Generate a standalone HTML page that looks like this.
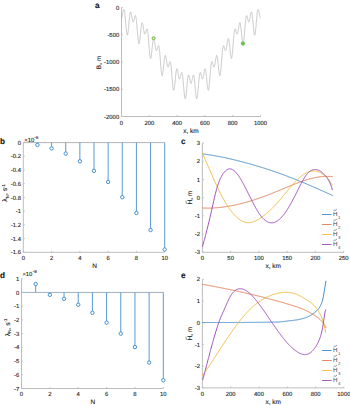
<!DOCTYPE html>
<html><head><meta charset="utf-8"><style>
html,body{margin:0;padding:0;background:#fff;width:350px;height:405px;overflow:hidden}
svg{display:block;font-family:"Liberation Sans",sans-serif;text-rendering:geometricPrecision}
text{stroke:#262626;stroke-width:0.12px}
</style></head><body>
<svg width="350" height="405" viewBox="0 0 350 405">
<rect width="350" height="405" fill="#fff"/>
<line x1="121.5" y1="7.6" x2="121.5" y2="116.5" stroke="#bdbdbd" stroke-width="1.0"/>
<line x1="121.5" y1="116.5" x2="260.5" y2="116.5" stroke="#bdbdbd" stroke-width="1.0"/>
<line x1="121.5" y1="7.6" x2="122.9" y2="7.6" stroke="#bdbdbd" stroke-width="1.0"/>
<text x="119.2" y="9.7" font-size="5.9" text-anchor="end" fill="#262626" font-weight="normal" >0</text>
<line x1="121.5" y1="34.82" x2="122.9" y2="34.82" stroke="#bdbdbd" stroke-width="1.0"/>
<text x="119.2" y="36.92" font-size="5.9" text-anchor="end" fill="#262626" font-weight="normal" >-500</text>
<line x1="121.5" y1="62.05" x2="122.9" y2="62.05" stroke="#bdbdbd" stroke-width="1.0"/>
<text x="119.2" y="64.15" font-size="5.9" text-anchor="end" fill="#262626" font-weight="normal" >-1000</text>
<line x1="121.5" y1="89.27" x2="122.9" y2="89.27" stroke="#bdbdbd" stroke-width="1.0"/>
<text x="119.2" y="91.37" font-size="5.9" text-anchor="end" fill="#262626" font-weight="normal" >-1500</text>
<line x1="121.5" y1="116.5" x2="122.9" y2="116.5" stroke="#bdbdbd" stroke-width="1.0"/>
<text x="119.2" y="118.6" font-size="5.9" text-anchor="end" fill="#262626" font-weight="normal" >-2000</text>
<line x1="121.5" y1="116.5" x2="121.5" y2="115.1" stroke="#bdbdbd" stroke-width="1.0"/>
<text x="121.5" y="124.7" font-size="5.9" text-anchor="middle" fill="#262626" font-weight="normal" >0</text>
<line x1="149.3" y1="116.5" x2="149.3" y2="115.1" stroke="#bdbdbd" stroke-width="1.0"/>
<text x="149.3" y="124.7" font-size="5.9" text-anchor="middle" fill="#262626" font-weight="normal" >200</text>
<line x1="177.1" y1="116.5" x2="177.1" y2="115.1" stroke="#bdbdbd" stroke-width="1.0"/>
<text x="177.1" y="124.7" font-size="5.9" text-anchor="middle" fill="#262626" font-weight="normal" >400</text>
<line x1="204.9" y1="116.5" x2="204.9" y2="115.1" stroke="#bdbdbd" stroke-width="1.0"/>
<text x="204.9" y="124.7" font-size="5.9" text-anchor="middle" fill="#262626" font-weight="normal" >600</text>
<line x1="232.7" y1="116.5" x2="232.7" y2="115.1" stroke="#bdbdbd" stroke-width="1.0"/>
<text x="232.7" y="124.7" font-size="5.9" text-anchor="middle" fill="#262626" font-weight="normal" >800</text>
<line x1="260.5" y1="116.5" x2="260.5" y2="115.1" stroke="#bdbdbd" stroke-width="1.0"/>
<text x="260.5" y="124.7" font-size="5.9" text-anchor="middle" fill="#262626" font-weight="normal" >1000</text>
<text x="191" y="132.8" font-size="6.5" text-anchor="middle" fill="#262626" font-weight="normal" >x, km</text>
<text x="99.6" y="62.5" font-size="6.5" text-anchor="middle" fill="#262626" font-weight="normal" transform="rotate(-90 99.6 62.5)" dominant-baseline="central">B, m</text>
<text x="94.9" y="8" font-size="8.2" text-anchor="start" fill="#111" font-weight="bold" >a</text>
<path d="M121.5,17.53 L121.62,17.49 L121.73,17.35 L121.85,17.14 L121.96,16.84 L122.08,16.47 L122.19,16.04 L122.31,15.54 L122.43,15 L122.54,14.42 L122.66,13.82 L122.77,13.21 L122.89,12.61 L123.01,12.02 L123.12,11.46 L123.24,10.94 L123.35,10.48 L123.47,10.1 L123.58,9.79 L123.7,9.58 L123.82,9.47 L123.93,9.46 L124.05,9.58 L124.16,9.81 L124.28,10.16 L124.4,10.64 L124.51,11.24 L124.63,11.96 L124.74,12.8 L124.86,13.74 L124.97,14.78 L125.09,15.91 L125.21,17.12 L125.32,18.4 L125.44,19.72 L125.55,21.08 L125.67,22.46 L125.79,23.84 L125.9,25.2 L126.02,26.54 L126.13,27.83 L126.25,29.06 L126.36,30.21 L126.48,31.26 L126.6,32.21 L126.71,33.04 L126.83,33.75 L126.94,34.31 L127.06,34.74 L127.18,35.01 L127.29,35.13 L127.41,35.1 L127.52,34.92 L127.64,34.58 L127.75,34.11 L127.87,33.49 L127.99,32.75 L128.1,31.89 L128.22,30.92 L128.33,29.86 L128.45,28.72 L128.57,27.52 L128.68,26.28 L128.8,25 L128.91,23.71 L129.03,22.42 L129.15,21.15 L129.26,19.91 L129.38,18.73 L129.49,17.61 L129.61,16.57 L129.72,15.61 L129.84,14.76 L129.96,14.01 L130.07,13.38 L130.19,12.87 L130.3,12.48 L130.42,12.21 L130.53,12.07 L130.65,12.04 L130.77,12.13 L130.88,12.33 L131,12.64 L131.11,13.03 L131.23,13.51 L131.35,14.05 L131.46,14.65 L131.58,15.3 L131.69,15.98 L131.81,16.67 L131.93,17.37 L132.04,18.06 L132.16,18.72 L132.27,19.35 L132.39,19.93 L132.5,20.46 L132.62,20.91 L132.74,21.3 L132.85,21.6 L132.97,21.82 L133.08,21.95 L133.2,21.99 L133.31,21.94 L133.43,21.81 L133.55,21.6 L133.66,21.32 L133.78,20.97 L133.89,20.56 L134.01,20.1 L134.13,19.61 L134.24,19.1 L134.36,18.57 L134.47,18.05 L134.59,17.54 L134.71,17.07 L134.82,16.64 L134.94,16.26 L135.05,15.96 L135.17,15.74 L135.28,15.61 L135.4,15.58 L135.52,15.66 L135.63,15.86 L135.75,16.17 L135.86,16.61 L135.98,17.17 L136.09,17.85 L136.21,18.66 L136.33,19.57 L136.44,20.6 L136.56,21.72 L136.67,22.94 L136.79,24.23 L136.91,25.58 L137.02,26.98 L137.14,28.42 L137.25,29.88 L137.37,31.34 L137.49,32.79 L137.6,34.21 L137.72,35.58 L137.83,36.88 L137.95,38.11 L138.06,39.25 L138.18,40.28 L138.3,41.19 L138.41,41.97 L138.53,42.61 L138.64,43.11 L138.76,43.46 L138.88,43.66 L138.99,43.71 L139.11,43.6 L139.22,43.34 L139.34,42.94 L139.45,42.41 L139.57,41.74 L139.69,40.95 L139.8,40.06 L139.92,39.08 L140.03,38.02 L140.15,36.89 L140.26,35.72 L140.38,34.51 L140.5,33.3 L140.61,32.08 L140.73,30.89 L140.84,29.72 L140.96,28.61 L141.08,27.57 L141.19,26.6 L141.31,25.71 L141.42,24.93 L141.54,24.26 L141.66,23.7 L141.77,23.26 L141.89,22.94 L142,22.74 L142.12,22.67 L142.23,22.71 L142.35,22.87 L142.47,23.14 L142.58,23.51 L142.7,23.98 L142.81,24.52 L142.93,25.13 L143.05,25.8 L143.16,26.52 L143.28,27.26 L143.39,28.02 L143.51,28.79 L143.62,29.54 L143.74,30.27 L143.86,30.97 L143.97,31.61 L144.09,32.2 L144.2,32.72 L144.32,33.17 L144.44,33.54 L144.55,33.82 L144.67,34.01 L144.78,34.12 L144.9,34.13 L145.01,34.07 L145.13,33.92 L145.25,33.7 L145.36,33.41 L145.48,33.06 L145.59,32.66 L145.71,32.23 L145.82,31.78 L145.94,31.31 L146.06,30.85 L146.17,30.4 L146.29,29.98 L146.4,29.61 L146.52,29.3 L146.64,29.05 L146.75,28.89 L146.87,28.81 L146.98,28.84 L147.1,28.98 L147.22,29.23 L147.33,29.6 L147.45,30.09 L147.56,30.71 L147.68,31.45 L147.79,32.3 L147.91,33.27 L148.03,34.35 L148.14,35.53 L148.26,36.79 L148.37,38.13 L148.49,39.54 L148.61,41 L148.72,42.49 L148.84,43.99 L148.95,45.51 L149.07,47 L149.18,48.47 L149.3,49.89 L149.42,51.24 L149.53,52.52 L149.65,53.7 L149.76,54.78 L149.88,55.73 L150,56.56 L150.11,57.25 L150.23,57.8 L150.34,58.2 L150.46,58.44 L150.57,58.53 L150.69,58.47 L150.81,58.25 L150.92,57.9 L151.04,57.4 L151.15,56.78 L151.27,56.03 L151.38,55.18 L151.5,54.24 L151.62,53.22 L151.73,52.13 L151.85,51 L151.96,49.84 L152.08,48.66 L152.2,47.48 L152.31,46.32 L152.43,45.2 L152.54,44.13 L152.66,43.12 L152.78,42.18 L152.89,41.34 L153.01,40.59 L153.12,39.95 L153.24,39.43 L153.35,39.02 L153.47,38.73 L153.59,38.57 L153.7,38.53 L153.82,38.61 L153.93,38.8 L154.05,39.1 L154.17,39.51 L154.28,40 L154.4,40.57 L154.51,41.22 L154.63,41.92 L154.74,42.66 L154.86,43.43 L154.98,44.22 L155.09,45.02 L155.21,45.8 L155.32,46.55 L155.44,47.27 L155.56,47.95 L155.67,48.56 L155.79,49.11 L155.9,49.58 L156.02,49.97 L156.13,50.27 L156.25,50.49 L156.37,50.62 L156.48,50.66 L156.6,50.61 L156.71,50.49 L156.83,50.29 L156.94,50.02 L157.06,49.69 L157.18,49.31 L157.29,48.9 L157.41,48.47 L157.52,48.02 L157.64,47.57 L157.76,47.14 L157.87,46.74 L157.99,46.39 L158.1,46.09 L158.22,45.86 L158.34,45.71 L158.45,45.65 L158.57,45.69 L158.68,45.84 L158.8,46.11 L158.91,46.49 L159.03,47 L159.15,47.62 L159.26,48.37 L159.38,49.24 L159.49,50.22 L159.61,51.31 L159.72,52.5 L159.84,53.77 L159.96,55.12 L160.07,56.53 L160.19,58 L160.3,59.5 L160.42,61.01 L160.54,62.53 L160.65,64.03 L160.77,65.5 L160.88,66.93 L161,68.29 L161.12,69.57 L161.23,70.75 L161.35,71.83 L161.46,72.79 L161.58,73.62 L161.69,74.31 L161.81,74.86 L161.93,75.26 L162.04,75.5 L162.16,75.59 L162.27,75.53 L162.39,75.31 L162.5,74.95 L162.62,74.46 L162.74,73.83 L162.85,73.08 L162.97,72.23 L163.08,71.29 L163.2,70.26 L163.32,69.17 L163.43,68.03 L163.55,66.86 L163.66,65.67 L163.78,64.49 L163.9,63.33 L164.01,62.2 L164.13,61.11 L164.24,60.09 L164.36,59.15 L164.47,58.3 L164.59,57.54 L164.71,56.89 L164.82,56.35 L164.94,55.94 L165.05,55.64 L165.17,55.46 L165.28,55.41 L165.4,55.47 L165.52,55.65 L165.63,55.94 L165.75,56.33 L165.86,56.81 L165.98,57.37 L166.1,57.99 L166.21,58.68 L166.33,59.4 L166.44,60.16 L166.56,60.93 L166.68,61.71 L166.79,62.47 L166.91,63.21 L167.02,63.91 L167.14,64.56 L167.25,65.15 L167.37,65.68 L167.49,66.13 L167.6,66.5 L167.72,66.78 L167.83,66.97 L167.95,67.08 L168.06,67.09 L168.18,67.02 L168.3,66.87 L168.41,66.65 L168.53,66.35 L168.64,66 L168.76,65.6 L168.88,65.16 L168.99,64.69 L169.11,64.22 L169.22,63.74 L169.34,63.29 L169.46,62.86 L169.57,62.47 L169.69,62.14 L169.8,61.88 L169.92,61.7 L170.03,61.61 L170.15,61.62 L170.27,61.74 L170.38,61.97 L170.5,62.32 L170.61,62.79 L170.73,63.39 L170.84,64.1 L170.96,64.94 L171.08,65.88 L171.19,66.93 L171.31,68.08 L171.42,69.32 L171.54,70.63 L171.66,72.01 L171.77,73.44 L171.89,74.9 L172,76.37 L172.12,77.85 L172.24,79.31 L172.35,80.75 L172.47,82.13 L172.58,83.45 L172.7,84.69 L172.81,85.83 L172.93,86.87 L173.05,87.79 L173.16,88.57 L173.28,89.22 L173.39,89.73 L173.51,90.08 L173.62,90.28 L173.74,90.32 L173.86,90.21 L173.97,89.95 L174.09,89.55 L174.2,89.01 L174.32,88.33 L174.44,87.54 L174.55,86.64 L174.67,85.64 L174.78,84.57 L174.9,83.43 L175.02,82.24 L175.13,81.02 L175.25,79.79 L175.36,78.55 L175.48,77.34 L175.59,76.15 L175.71,75.02 L175.83,73.95 L175.94,72.96 L176.06,72.05 L176.17,71.24 L176.29,70.54 L176.41,69.94 L176.52,69.47 L176.64,69.12 L176.75,68.89 L176.87,68.78 L176.98,68.79 L177.1,68.91 L177.22,69.14 L177.33,69.48 L177.45,69.9 L177.56,70.4 L177.68,70.97 L177.8,71.59 L177.91,72.26 L178.03,72.96 L178.14,73.67 L178.26,74.39 L178.37,75.09 L178.49,75.77 L178.61,76.41 L178.72,77 L178.84,77.53 L178.95,77.99 L179.07,78.38 L179.19,78.69 L179.3,78.91 L179.42,79.04 L179.53,79.08 L179.65,79.03 L179.76,78.9 L179.88,78.68 L180,78.39 L180.11,78.03 L180.23,77.61 L180.34,77.15 L180.46,76.64 L180.57,76.11 L180.69,75.57 L180.81,75.03 L180.92,74.5 L181.04,74.01 L181.15,73.55 L181.27,73.16 L181.39,72.83 L181.5,72.58 L181.62,72.42 L181.73,72.36 L181.85,72.41 L181.97,72.57 L182.08,72.85 L182.2,73.25 L182.31,73.77 L182.43,74.42 L182.54,75.18 L182.66,76.05 L182.78,77.03 L182.89,78.11 L183.01,79.28 L183.12,80.52 L183.24,81.82 L183.36,83.17 L183.47,84.56 L183.59,85.96 L183.7,87.37 L183.82,88.76 L183.93,90.11 L184.05,91.42 L184.17,92.67 L184.28,93.83 L184.4,94.9 L184.51,95.86 L184.63,96.7 L184.75,97.41 L184.86,97.98 L184.98,98.41 L185.09,98.69 L185.21,98.81 L185.32,98.78 L185.44,98.59 L185.56,98.25 L185.67,97.77 L185.79,97.15 L185.9,96.39 L186.02,95.52 L186.13,94.54 L186.25,93.47 L186.37,92.31 L186.48,91.1 L186.6,89.83 L186.71,88.53 L186.83,87.21 L186.95,85.9 L187.06,84.6 L187.18,83.34 L187.29,82.12 L187.41,80.97 L187.53,79.9 L187.64,78.91 L187.76,78.02 L187.87,77.23 L187.99,76.56 L188.1,76 L188.22,75.57 L188.34,75.25 L188.45,75.06 L188.57,74.99 L188.68,75.03 L188.8,75.18 L188.92,75.42 L189.03,75.76 L189.15,76.18 L189.26,76.66 L189.38,77.2 L189.49,77.79 L189.61,78.4 L189.73,79.03 L189.84,79.66 L189.96,80.28 L190.07,80.87 L190.19,81.42 L190.31,81.93 L190.42,82.37 L190.54,82.75 L190.65,83.05 L190.77,83.27 L190.88,83.41 L191,83.45 L191.12,83.41 L191.23,83.27 L191.35,83.05 L191.46,82.75 L191.58,82.37 L191.69,81.93 L191.81,81.42 L191.93,80.87 L192.04,80.28 L192.16,79.66 L192.27,79.03 L192.39,78.4 L192.51,77.79 L192.62,77.2 L192.74,76.66 L192.85,76.18 L192.97,75.76 L193.09,75.42 L193.2,75.18 L193.32,75.03 L193.43,74.99 L193.55,75.06 L193.66,75.25 L193.78,75.57 L193.9,76 L194.01,76.56 L194.13,77.23 L194.24,78.02 L194.36,78.91 L194.48,79.9 L194.59,80.97 L194.71,82.12 L194.82,83.34 L194.94,84.6 L195.05,85.9 L195.17,87.21 L195.29,88.53 L195.4,89.83 L195.52,91.1 L195.63,92.31 L195.75,93.47 L195.87,94.54 L195.98,95.52 L196.1,96.39 L196.21,97.15 L196.33,97.77 L196.44,98.25 L196.56,98.59 L196.68,98.78 L196.79,98.81 L196.91,98.69 L197.02,98.41 L197.14,97.98 L197.25,97.41 L197.37,96.7 L197.49,95.86 L197.6,94.9 L197.72,93.83 L197.83,92.67 L197.95,91.42 L198.07,90.11 L198.18,88.76 L198.3,87.37 L198.41,85.96 L198.53,84.56 L198.65,83.17 L198.76,81.82 L198.88,80.52 L198.99,79.28 L199.11,78.11 L199.22,77.03 L199.34,76.05 L199.46,75.18 L199.57,74.42 L199.69,73.77 L199.8,73.25 L199.92,72.85 L200.04,72.57 L200.15,72.41 L200.27,72.36 L200.38,72.42 L200.5,72.58 L200.61,72.83 L200.73,73.16 L200.85,73.55 L200.96,74.01 L201.08,74.5 L201.19,75.03 L201.31,75.57 L201.43,76.11 L201.54,76.64 L201.66,77.15 L201.77,77.61 L201.89,78.03 L202,78.39 L202.12,78.68 L202.24,78.9 L202.35,79.03 L202.47,79.08 L202.58,79.04 L202.7,78.91 L202.81,78.69 L202.93,78.38 L203.05,77.99 L203.16,77.53 L203.28,77 L203.39,76.41 L203.51,75.77 L203.63,75.09 L203.74,74.39 L203.86,73.67 L203.97,72.96 L204.09,72.26 L204.21,71.59 L204.32,70.97 L204.44,70.4 L204.55,69.9 L204.67,69.48 L204.78,69.14 L204.9,68.91 L205.02,68.79 L205.13,68.78 L205.25,68.89 L205.36,69.12 L205.48,69.47 L205.6,69.94 L205.71,70.54 L205.83,71.24 L205.94,72.05 L206.06,72.96 L206.17,73.95 L206.29,75.02 L206.41,76.15 L206.52,77.34 L206.64,78.55 L206.75,79.79 L206.87,81.02 L206.99,82.24 L207.1,83.43 L207.22,84.57 L207.33,85.64 L207.45,86.64 L207.56,87.54 L207.68,88.33 L207.8,89.01 L207.91,89.55 L208.03,89.95 L208.14,90.21 L208.26,90.32 L208.38,90.28 L208.49,90.08 L208.61,89.73 L208.72,89.22 L208.84,88.57 L208.95,87.79 L209.07,86.87 L209.19,85.83 L209.3,84.69 L209.42,83.45 L209.53,82.13 L209.65,80.75 L209.77,79.31 L209.88,77.85 L210,76.37 L210.11,74.9 L210.23,73.44 L210.34,72.01 L210.46,70.63 L210.58,69.32 L210.69,68.08 L210.81,66.93 L210.92,65.88 L211.04,64.94 L211.16,64.1 L211.27,63.39 L211.39,62.79 L211.5,62.32 L211.62,61.97 L211.73,61.74 L211.85,61.62 L211.97,61.61 L212.08,61.7 L212.2,61.88 L212.31,62.14 L212.43,62.47 L212.55,62.86 L212.66,63.29 L212.78,63.74 L212.89,64.22 L213.01,64.69 L213.12,65.16 L213.24,65.6 L213.36,66 L213.47,66.35 L213.59,66.65 L213.7,66.87 L213.82,67.02 L213.94,67.09 L214.05,67.08 L214.17,66.97 L214.28,66.78 L214.4,66.5 L214.51,66.13 L214.63,65.68 L214.75,65.15 L214.86,64.56 L214.98,63.91 L215.09,63.21 L215.21,62.47 L215.32,61.71 L215.44,60.93 L215.56,60.16 L215.67,59.4 L215.79,58.68 L215.9,57.99 L216.02,57.37 L216.14,56.81 L216.25,56.33 L216.37,55.94 L216.48,55.65 L216.6,55.47 L216.72,55.41 L216.83,55.46 L216.95,55.64 L217.06,55.94 L217.18,56.35 L217.29,56.89 L217.41,57.54 L217.53,58.3 L217.64,59.15 L217.76,60.09 L217.87,61.11 L217.99,62.2 L218.11,63.33 L218.22,64.49 L218.34,65.67 L218.45,66.86 L218.57,68.03 L218.68,69.17 L218.8,70.26 L218.92,71.29 L219.03,72.23 L219.15,73.08 L219.26,73.83 L219.38,74.46 L219.5,74.95 L219.61,75.31 L219.73,75.53 L219.84,75.59 L219.96,75.5 L220.07,75.26 L220.19,74.86 L220.31,74.31 L220.42,73.62 L220.54,72.79 L220.65,71.83 L220.77,70.75 L220.88,69.57 L221,68.29 L221.12,66.93 L221.23,65.5 L221.35,64.03 L221.46,62.53 L221.58,61.01 L221.7,59.5 L221.81,58 L221.93,56.53 L222.04,55.12 L222.16,53.77 L222.28,52.5 L222.39,51.31 L222.51,50.22 L222.62,49.24 L222.74,48.37 L222.85,47.62 L222.97,47 L223.09,46.49 L223.2,46.11 L223.32,45.84 L223.43,45.69 L223.55,45.65 L223.67,45.71 L223.78,45.86 L223.9,46.09 L224.01,46.39 L224.13,46.74 L224.24,47.14 L224.36,47.57 L224.48,48.02 L224.59,48.47 L224.71,48.9 L224.82,49.31 L224.94,49.69 L225.06,50.02 L225.17,50.29 L225.29,50.49 L225.4,50.61 L225.52,50.66 L225.63,50.62 L225.75,50.49 L225.87,50.27 L225.98,49.97 L226.1,49.58 L226.21,49.11 L226.33,48.56 L226.44,47.95 L226.56,47.27 L226.68,46.55 L226.79,45.8 L226.91,45.02 L227.02,44.22 L227.14,43.43 L227.26,42.66 L227.37,41.92 L227.49,41.22 L227.6,40.57 L227.72,40 L227.84,39.51 L227.95,39.1 L228.07,38.8 L228.18,38.61 L228.3,38.53 L228.41,38.57 L228.53,38.73 L228.65,39.02 L228.76,39.43 L228.88,39.95 L228.99,40.59 L229.11,41.34 L229.23,42.18 L229.34,43.12 L229.46,44.13 L229.57,45.2 L229.69,46.32 L229.8,47.48 L229.92,48.66 L230.04,49.84 L230.15,51 L230.27,52.13 L230.38,53.22 L230.5,54.24 L230.62,55.18 L230.73,56.03 L230.85,56.78 L230.96,57.4 L231.08,57.9 L231.19,58.25 L231.31,58.47 L231.43,58.53 L231.54,58.44 L231.66,58.2 L231.77,57.8 L231.89,57.25 L232,56.56 L232.12,55.73 L232.24,54.78 L232.35,53.7 L232.47,52.52 L232.58,51.24 L232.7,49.89 L232.82,48.47 L232.93,47 L233.05,45.51 L233.16,43.99 L233.28,42.49 L233.4,41 L233.51,39.54 L233.63,38.13 L233.74,36.79 L233.86,35.53 L233.97,34.35 L234.09,33.27 L234.21,32.3 L234.32,31.45 L234.44,30.71 L234.55,30.09 L234.67,29.6 L234.79,29.23 L234.9,28.98 L235.02,28.84 L235.13,28.81 L235.25,28.89 L235.36,29.05 L235.48,29.3 L235.6,29.61 L235.71,29.98 L235.83,30.4 L235.94,30.85 L236.06,31.31 L236.18,31.78 L236.29,32.23 L236.41,32.66 L236.52,33.06 L236.64,33.41 L236.75,33.7 L236.87,33.92 L236.99,34.07 L237.1,34.13 L237.22,34.12 L237.33,34.01 L237.45,33.82 L237.56,33.54 L237.68,33.17 L237.8,32.72 L237.91,32.2 L238.03,31.61 L238.14,30.97 L238.26,30.27 L238.38,29.54 L238.49,28.79 L238.61,28.02 L238.72,27.26 L238.84,26.52 L238.96,25.8 L239.07,25.13 L239.19,24.52 L239.3,23.98 L239.42,23.51 L239.53,23.14 L239.65,22.87 L239.77,22.71 L239.88,22.67 L240,22.74 L240.11,22.94 L240.23,23.26 L240.35,23.7 L240.46,24.26 L240.58,24.93 L240.69,25.71 L240.81,26.6 L240.92,27.57 L241.04,28.61 L241.16,29.72 L241.27,30.89 L241.39,32.08 L241.5,33.3 L241.62,34.51 L241.74,35.72 L241.85,36.89 L241.97,38.02 L242.08,39.08 L242.2,40.06 L242.31,40.95 L242.43,41.74 L242.55,42.41 L242.66,42.94 L242.78,43.34 L242.89,43.6 L243.01,43.71 L243.12,43.66 L243.24,43.46 L243.36,43.11 L243.47,42.61 L243.59,41.97 L243.7,41.19 L243.82,40.28 L243.94,39.25 L244.05,38.11 L244.17,36.88 L244.28,35.58 L244.4,34.21 L244.52,32.79 L244.63,31.34 L244.75,29.88 L244.86,28.42 L244.98,26.98 L245.09,25.58 L245.21,24.23 L245.33,22.94 L245.44,21.72 L245.56,20.6 L245.67,19.57 L245.79,18.66 L245.91,17.85 L246.02,17.17 L246.14,16.61 L246.25,16.17 L246.37,15.86 L246.48,15.66 L246.6,15.58 L246.72,15.61 L246.83,15.74 L246.95,15.96 L247.06,16.26 L247.18,16.64 L247.3,17.07 L247.41,17.54 L247.53,18.05 L247.64,18.57 L247.76,19.1 L247.87,19.61 L247.99,20.1 L248.11,20.56 L248.22,20.97 L248.34,21.32 L248.45,21.6 L248.57,21.81 L248.69,21.94 L248.8,21.99 L248.92,21.95 L249.03,21.82 L249.15,21.6 L249.26,21.3 L249.38,20.91 L249.5,20.46 L249.61,19.93 L249.73,19.35 L249.84,18.72 L249.96,18.06 L250.08,17.37 L250.19,16.67 L250.31,15.98 L250.42,15.3 L250.54,14.65 L250.65,14.05 L250.77,13.51 L250.89,13.03 L251,12.64 L251.12,12.33 L251.23,12.13 L251.35,12.04 L251.47,12.07 L251.58,12.21 L251.7,12.48 L251.81,12.87 L251.93,13.38 L252.04,14.01 L252.16,14.76 L252.28,15.61 L252.39,16.57 L252.51,17.61 L252.62,18.73 L252.74,19.91 L252.86,21.15 L252.97,22.42 L253.09,23.71 L253.2,25 L253.32,26.28 L253.43,27.52 L253.55,28.72 L253.67,29.86 L253.78,30.92 L253.9,31.89 L254.01,32.75 L254.13,33.49 L254.25,34.11 L254.36,34.58 L254.48,34.92 L254.59,35.1 L254.71,35.13 L254.82,35.01 L254.94,34.74 L255.06,34.31 L255.17,33.75 L255.29,33.04 L255.4,32.21 L255.52,31.26 L255.64,30.21 L255.75,29.06 L255.87,27.83 L255.98,26.54 L256.1,25.2 L256.21,23.84 L256.33,22.46 L256.45,21.08 L256.56,19.72 L256.68,18.4 L256.79,17.12 L256.91,15.91 L257.02,14.78 L257.14,13.74 L257.26,12.8 L257.37,11.96 L257.49,11.24 L257.6,10.64 L257.72,10.16 L257.84,9.81 L257.95,9.58 L258.07,9.46 L258.18,9.47 L258.3,9.58 L258.42,9.79 L258.53,10.1 L258.65,10.48 L258.76,10.94 L258.88,11.46 L258.99,12.02 L259.11,12.61 L259.23,13.21 L259.34,13.82 L259.46,14.42 L259.57,15 L259.69,15.54 L259.81,16.04 L259.92,16.47 L260.04,16.84 L260.15,17.14 L260.27,17.35 L260.38,17.49 L260.5,17.53" fill="none" stroke="#ababab" stroke-width="0.62" stroke-linejoin="round" stroke-linecap="round" />
<circle cx="153.6" cy="38.2" r="1.5" fill="#d4ecc2" stroke="#74b843" stroke-width="1.0"/>
<circle cx="242.9" cy="43.5" r="1.9" fill="#6cbf48" stroke="#6cbf48" stroke-width="0.3"/>
<line x1="23.3" y1="142.6" x2="23.3" y2="252.3" stroke="#bdbdbd" stroke-width="1.0"/>
<line x1="23.3" y1="252.3" x2="164.7" y2="252.3" stroke="#bdbdbd" stroke-width="1.0"/>
<line x1="23.3" y1="142.6" x2="24.7" y2="142.6" stroke="#bdbdbd" stroke-width="1.0"/>
<text x="21" y="144.7" font-size="5.9" text-anchor="end" fill="#262626" font-weight="normal" >0</text>
<line x1="23.3" y1="156.31" x2="24.7" y2="156.31" stroke="#bdbdbd" stroke-width="1.0"/>
<text x="21" y="158.41" font-size="5.9" text-anchor="end" fill="#262626" font-weight="normal" >-0.2</text>
<line x1="23.3" y1="170.03" x2="24.7" y2="170.03" stroke="#bdbdbd" stroke-width="1.0"/>
<text x="21" y="172.12" font-size="5.9" text-anchor="end" fill="#262626" font-weight="normal" >-0.4</text>
<line x1="23.3" y1="183.74" x2="24.7" y2="183.74" stroke="#bdbdbd" stroke-width="1.0"/>
<text x="21" y="185.84" font-size="5.9" text-anchor="end" fill="#262626" font-weight="normal" >-0.6</text>
<line x1="23.3" y1="197.45" x2="24.7" y2="197.45" stroke="#bdbdbd" stroke-width="1.0"/>
<text x="21" y="199.55" font-size="5.9" text-anchor="end" fill="#262626" font-weight="normal" >-0.8</text>
<line x1="23.3" y1="211.16" x2="24.7" y2="211.16" stroke="#bdbdbd" stroke-width="1.0"/>
<text x="21" y="213.26" font-size="5.9" text-anchor="end" fill="#262626" font-weight="normal" >-1</text>
<line x1="23.3" y1="224.88" x2="24.7" y2="224.88" stroke="#bdbdbd" stroke-width="1.0"/>
<text x="21" y="226.97" font-size="5.9" text-anchor="end" fill="#262626" font-weight="normal" >-1.2</text>
<line x1="23.3" y1="238.59" x2="24.7" y2="238.59" stroke="#bdbdbd" stroke-width="1.0"/>
<text x="21" y="240.69" font-size="5.9" text-anchor="end" fill="#262626" font-weight="normal" >-1.4</text>
<line x1="23.3" y1="252.3" x2="24.7" y2="252.3" stroke="#bdbdbd" stroke-width="1.0"/>
<text x="21" y="254.4" font-size="5.9" text-anchor="end" fill="#262626" font-weight="normal" >-1.6</text>
<line x1="23.3" y1="252.3" x2="23.3" y2="250.9" stroke="#bdbdbd" stroke-width="1.0"/>
<text x="23.3" y="260.2" font-size="5.9" text-anchor="middle" fill="#262626" font-weight="normal" >0</text>
<line x1="51.58" y1="252.3" x2="51.58" y2="250.9" stroke="#bdbdbd" stroke-width="1.0"/>
<text x="51.58" y="260.2" font-size="5.9" text-anchor="middle" fill="#262626" font-weight="normal" >2</text>
<line x1="79.86" y1="252.3" x2="79.86" y2="250.9" stroke="#bdbdbd" stroke-width="1.0"/>
<text x="79.86" y="260.2" font-size="5.9" text-anchor="middle" fill="#262626" font-weight="normal" >4</text>
<line x1="108.14" y1="252.3" x2="108.14" y2="250.9" stroke="#bdbdbd" stroke-width="1.0"/>
<text x="108.14" y="260.2" font-size="5.9" text-anchor="middle" fill="#262626" font-weight="normal" >6</text>
<line x1="136.42" y1="252.3" x2="136.42" y2="250.9" stroke="#bdbdbd" stroke-width="1.0"/>
<text x="136.42" y="260.2" font-size="5.9" text-anchor="middle" fill="#262626" font-weight="normal" >8</text>
<line x1="164.7" y1="252.3" x2="164.7" y2="250.9" stroke="#bdbdbd" stroke-width="1.0"/>
<text x="164.7" y="260.2" font-size="5.9" text-anchor="middle" fill="#262626" font-weight="normal" >10</text>
<line x1="23.3" y1="142.6" x2="164.7" y2="142.6" stroke="#b4b4b4" stroke-width="1.0"/>
<line x1="37.44" y1="142.6" x2="37.44" y2="144.93" stroke="#4690d0" stroke-width="0.9"/>
<circle cx="37.44" cy="144.93" r="1.7" fill="#fff" stroke="#4690d0" stroke-width="1.0"/>
<line x1="51.58" y1="142.6" x2="51.58" y2="148.43" stroke="#4690d0" stroke-width="0.9"/>
<circle cx="51.58" cy="148.43" r="1.7" fill="#fff" stroke="#4690d0" stroke-width="1.0"/>
<line x1="65.72" y1="142.6" x2="65.72" y2="153.57" stroke="#4690d0" stroke-width="0.9"/>
<circle cx="65.72" cy="153.57" r="1.7" fill="#fff" stroke="#4690d0" stroke-width="1.0"/>
<line x1="79.86" y1="142.6" x2="79.86" y2="161.25" stroke="#4690d0" stroke-width="0.9"/>
<circle cx="79.86" cy="161.25" r="1.7" fill="#fff" stroke="#4690d0" stroke-width="1.0"/>
<line x1="94" y1="142.6" x2="94" y2="170.85" stroke="#4690d0" stroke-width="0.9"/>
<circle cx="94" cy="170.85" r="1.7" fill="#fff" stroke="#4690d0" stroke-width="1.0"/>
<line x1="108.14" y1="142.6" x2="108.14" y2="181.95" stroke="#4690d0" stroke-width="0.9"/>
<circle cx="108.14" cy="181.95" r="1.7" fill="#fff" stroke="#4690d0" stroke-width="1.0"/>
<line x1="122.28" y1="142.6" x2="122.28" y2="197.24" stroke="#4690d0" stroke-width="0.9"/>
<circle cx="122.28" cy="197.24" r="1.7" fill="#fff" stroke="#4690d0" stroke-width="1.0"/>
<line x1="136.42" y1="142.6" x2="136.42" y2="212.95" stroke="#4690d0" stroke-width="0.9"/>
<circle cx="136.42" cy="212.95" r="1.7" fill="#fff" stroke="#4690d0" stroke-width="1.0"/>
<line x1="150.56" y1="142.6" x2="150.56" y2="230.09" stroke="#4690d0" stroke-width="0.9"/>
<circle cx="150.56" cy="230.09" r="1.7" fill="#fff" stroke="#4690d0" stroke-width="1.0"/>
<line x1="164.7" y1="142.6" x2="164.7" y2="249.49" stroke="#4690d0" stroke-width="0.9"/>
<circle cx="164.7" cy="249.49" r="1.7" fill="#fff" stroke="#4690d0" stroke-width="1.0"/>
<text x="24.2" y="141.9" font-size="5.9" text-anchor="start" fill="#262626" font-weight="normal" >×10</text>
<text x="34.5" y="139.1" font-size="4.4" text-anchor="start" fill="#262626" font-weight="normal" >-6</text>
<text x="94.5" y="267.8" font-size="6.5" text-anchor="middle" fill="#262626" font-weight="normal" >N</text>
<text x="0" y="143.8" font-size="8.2" text-anchor="start" fill="#111" font-weight="bold" >b</text>
<text x="0" y="0" font-size="6.8" fill="#262626" text-anchor="middle" transform="translate(6.9 192.8) rotate(-90)">λ<tspan font-size="4.4" dy="1.6">N</tspan><tspan dy="-1.6">, s</tspan><tspan font-size="4.4" dy="-2.4">-1</tspan></text>
<line x1="21.5" y1="278.7" x2="21.5" y2="388.5" stroke="#bdbdbd" stroke-width="1.0"/>
<line x1="21.5" y1="388.5" x2="163.3" y2="388.5" stroke="#bdbdbd" stroke-width="1.0"/>
<line x1="21.5" y1="278.7" x2="22.9" y2="278.7" stroke="#bdbdbd" stroke-width="1.0"/>
<text x="19.2" y="280.8" font-size="5.9" text-anchor="end" fill="#262626" font-weight="normal" >1</text>
<line x1="21.5" y1="292.43" x2="22.9" y2="292.43" stroke="#bdbdbd" stroke-width="1.0"/>
<text x="19.2" y="294.53" font-size="5.9" text-anchor="end" fill="#262626" font-weight="normal" >0</text>
<line x1="21.5" y1="306.15" x2="22.9" y2="306.15" stroke="#bdbdbd" stroke-width="1.0"/>
<text x="19.2" y="308.25" font-size="5.9" text-anchor="end" fill="#262626" font-weight="normal" >-1</text>
<line x1="21.5" y1="319.88" x2="22.9" y2="319.88" stroke="#bdbdbd" stroke-width="1.0"/>
<text x="19.2" y="321.98" font-size="5.9" text-anchor="end" fill="#262626" font-weight="normal" >-2</text>
<line x1="21.5" y1="333.6" x2="22.9" y2="333.6" stroke="#bdbdbd" stroke-width="1.0"/>
<text x="19.2" y="335.7" font-size="5.9" text-anchor="end" fill="#262626" font-weight="normal" >-3</text>
<line x1="21.5" y1="347.32" x2="22.9" y2="347.32" stroke="#bdbdbd" stroke-width="1.0"/>
<text x="19.2" y="349.43" font-size="5.9" text-anchor="end" fill="#262626" font-weight="normal" >-4</text>
<line x1="21.5" y1="361.05" x2="22.9" y2="361.05" stroke="#bdbdbd" stroke-width="1.0"/>
<text x="19.2" y="363.15" font-size="5.9" text-anchor="end" fill="#262626" font-weight="normal" >-5</text>
<line x1="21.5" y1="374.77" x2="22.9" y2="374.77" stroke="#bdbdbd" stroke-width="1.0"/>
<text x="19.2" y="376.88" font-size="5.9" text-anchor="end" fill="#262626" font-weight="normal" >-6</text>
<line x1="21.5" y1="388.5" x2="22.9" y2="388.5" stroke="#bdbdbd" stroke-width="1.0"/>
<text x="19.2" y="390.6" font-size="5.9" text-anchor="end" fill="#262626" font-weight="normal" >-7</text>
<line x1="21.5" y1="388.5" x2="21.5" y2="387.1" stroke="#bdbdbd" stroke-width="1.0"/>
<text x="21.5" y="396.4" font-size="5.9" text-anchor="middle" fill="#262626" font-weight="normal" >0</text>
<line x1="49.86" y1="388.5" x2="49.86" y2="387.1" stroke="#bdbdbd" stroke-width="1.0"/>
<text x="49.86" y="396.4" font-size="5.9" text-anchor="middle" fill="#262626" font-weight="normal" >2</text>
<line x1="78.22" y1="388.5" x2="78.22" y2="387.1" stroke="#bdbdbd" stroke-width="1.0"/>
<text x="78.22" y="396.4" font-size="5.9" text-anchor="middle" fill="#262626" font-weight="normal" >4</text>
<line x1="106.58" y1="388.5" x2="106.58" y2="387.1" stroke="#bdbdbd" stroke-width="1.0"/>
<text x="106.58" y="396.4" font-size="5.9" text-anchor="middle" fill="#262626" font-weight="normal" >6</text>
<line x1="134.94" y1="388.5" x2="134.94" y2="387.1" stroke="#bdbdbd" stroke-width="1.0"/>
<text x="134.94" y="396.4" font-size="5.9" text-anchor="middle" fill="#262626" font-weight="normal" >8</text>
<line x1="163.3" y1="388.5" x2="163.3" y2="387.1" stroke="#bdbdbd" stroke-width="1.0"/>
<text x="163.3" y="396.4" font-size="5.9" text-anchor="middle" fill="#262626" font-weight="normal" >10</text>
<line x1="21.5" y1="292.43" x2="163.3" y2="292.43" stroke="#a0b1c3" stroke-width="1.0"/>
<line x1="35.68" y1="292.43" x2="35.68" y2="284.05" stroke="#4690d0" stroke-width="0.9"/>
<circle cx="35.68" cy="284.05" r="1.7" fill="#fff" stroke="#4690d0" stroke-width="1.0"/>
<line x1="49.86" y1="292.43" x2="49.86" y2="294.83" stroke="#4690d0" stroke-width="0.9"/>
<circle cx="49.86" cy="294.83" r="1.7" fill="#fff" stroke="#4690d0" stroke-width="1.0"/>
<line x1="64.04" y1="292.43" x2="64.04" y2="298.82" stroke="#4690d0" stroke-width="0.9"/>
<circle cx="64.04" cy="298.82" r="1.7" fill="#fff" stroke="#4690d0" stroke-width="1.0"/>
<line x1="78.22" y1="292.43" x2="78.22" y2="304.78" stroke="#4690d0" stroke-width="0.9"/>
<circle cx="78.22" cy="304.78" r="1.7" fill="#fff" stroke="#4690d0" stroke-width="1.0"/>
<line x1="92.4" y1="292.43" x2="92.4" y2="312.82" stroke="#4690d0" stroke-width="0.9"/>
<circle cx="92.4" cy="312.82" r="1.7" fill="#fff" stroke="#4690d0" stroke-width="1.0"/>
<line x1="106.58" y1="292.43" x2="106.58" y2="322.62" stroke="#4690d0" stroke-width="0.9"/>
<circle cx="106.58" cy="322.62" r="1.7" fill="#fff" stroke="#4690d0" stroke-width="1.0"/>
<line x1="120.76" y1="292.43" x2="120.76" y2="333.6" stroke="#4690d0" stroke-width="0.9"/>
<circle cx="120.76" cy="333.6" r="1.7" fill="#fff" stroke="#4690d0" stroke-width="1.0"/>
<line x1="134.94" y1="292.43" x2="134.94" y2="347.05" stroke="#4690d0" stroke-width="0.9"/>
<circle cx="134.94" cy="347.05" r="1.7" fill="#fff" stroke="#4690d0" stroke-width="1.0"/>
<line x1="149.12" y1="292.43" x2="149.12" y2="362.56" stroke="#4690d0" stroke-width="0.9"/>
<circle cx="149.12" cy="362.56" r="1.7" fill="#fff" stroke="#4690d0" stroke-width="1.0"/>
<line x1="163.3" y1="292.43" x2="163.3" y2="380.26" stroke="#4690d0" stroke-width="0.9"/>
<circle cx="163.3" cy="380.26" r="1.7" fill="#fff" stroke="#4690d0" stroke-width="1.0"/>
<text x="22.4" y="275.9" font-size="5.9" text-anchor="start" fill="#262626" font-weight="normal" >×10</text>
<text x="32.7" y="273.1" font-size="4.4" text-anchor="start" fill="#262626" font-weight="normal" >-9</text>
<text x="92.9" y="403.8" font-size="6.5" text-anchor="middle" fill="#262626" font-weight="normal" >N</text>
<text x="0" y="277.6" font-size="8.2" text-anchor="start" fill="#111" font-weight="bold" >d</text>
<text x="0" y="0" font-size="6.8" fill="#262626" text-anchor="middle" transform="translate(9.5 327.4) rotate(-90)">λ<tspan font-size="4.4" dy="1.6">N</tspan><tspan dy="-1.6">, s</tspan><tspan font-size="4.4" dy="-2.4">-1</tspan></text>
<line x1="202.4" y1="143.1" x2="202.4" y2="252.3" stroke="#bdbdbd" stroke-width="1.0"/>
<line x1="202.4" y1="252.3" x2="343.7" y2="252.3" stroke="#bdbdbd" stroke-width="1.0"/>
<line x1="202.4" y1="143.1" x2="203.8" y2="143.1" stroke="#bdbdbd" stroke-width="1.0"/>
<text x="200.1" y="145.2" font-size="5.9" text-anchor="end" fill="#262626" font-weight="normal" >3</text>
<line x1="202.4" y1="161.3" x2="203.8" y2="161.3" stroke="#bdbdbd" stroke-width="1.0"/>
<text x="200.1" y="163.4" font-size="5.9" text-anchor="end" fill="#262626" font-weight="normal" >2</text>
<line x1="202.4" y1="179.5" x2="203.8" y2="179.5" stroke="#bdbdbd" stroke-width="1.0"/>
<text x="200.1" y="181.6" font-size="5.9" text-anchor="end" fill="#262626" font-weight="normal" >1</text>
<line x1="202.4" y1="197.7" x2="203.8" y2="197.7" stroke="#bdbdbd" stroke-width="1.0"/>
<text x="200.1" y="199.8" font-size="5.9" text-anchor="end" fill="#262626" font-weight="normal" >0</text>
<line x1="202.4" y1="215.9" x2="203.8" y2="215.9" stroke="#bdbdbd" stroke-width="1.0"/>
<text x="200.1" y="218" font-size="5.9" text-anchor="end" fill="#262626" font-weight="normal" >-1</text>
<line x1="202.4" y1="234.1" x2="203.8" y2="234.1" stroke="#bdbdbd" stroke-width="1.0"/>
<text x="200.1" y="236.2" font-size="5.9" text-anchor="end" fill="#262626" font-weight="normal" >-2</text>
<line x1="202.4" y1="252.3" x2="203.8" y2="252.3" stroke="#bdbdbd" stroke-width="1.0"/>
<text x="200.1" y="254.4" font-size="5.9" text-anchor="end" fill="#262626" font-weight="normal" >-3</text>
<line x1="202.4" y1="252.3" x2="202.4" y2="250.9" stroke="#bdbdbd" stroke-width="1.0"/>
<text x="202.4" y="260" font-size="5.9" text-anchor="middle" fill="#262626" font-weight="normal" >0</text>
<line x1="230.65" y1="252.3" x2="230.65" y2="250.9" stroke="#bdbdbd" stroke-width="1.0"/>
<text x="230.65" y="260" font-size="5.9" text-anchor="middle" fill="#262626" font-weight="normal" >50</text>
<line x1="258.9" y1="252.3" x2="258.9" y2="250.9" stroke="#bdbdbd" stroke-width="1.0"/>
<text x="258.9" y="260" font-size="5.9" text-anchor="middle" fill="#262626" font-weight="normal" >100</text>
<line x1="287.15" y1="252.3" x2="287.15" y2="250.9" stroke="#bdbdbd" stroke-width="1.0"/>
<text x="287.15" y="260" font-size="5.9" text-anchor="middle" fill="#262626" font-weight="normal" >150</text>
<line x1="315.4" y1="252.3" x2="315.4" y2="250.9" stroke="#bdbdbd" stroke-width="1.0"/>
<text x="315.4" y="260" font-size="5.9" text-anchor="middle" fill="#262626" font-weight="normal" >200</text>
<line x1="343.65" y1="252.3" x2="343.65" y2="250.9" stroke="#bdbdbd" stroke-width="1.0"/>
<text x="343.65" y="260" font-size="5.9" text-anchor="middle" fill="#262626" font-weight="normal" >250</text>
<text x="273.2" y="267.8" font-size="6.5" text-anchor="middle" fill="#262626" font-weight="normal" >x, km</text>
<text x="181" y="143.9" font-size="8.2" text-anchor="start" fill="#111" font-weight="bold" >c</text>
<text x="0" y="0" font-size="6.5" fill="#262626" text-anchor="middle" transform="translate(191.8 197.6) rotate(-90)">H, m</text>
<path d="M186.62,203.9 C185.49,203.1 187.11,202.3 185.99,201.5 L185.76,200.7" fill="none" stroke="#4a4a4a" stroke-width="0.7"/>
<path d="M202.6,153.93 L202.93,153.97 L203.25,154.01 L203.58,154.05 L203.9,154.09 L204.23,154.14 L204.55,154.18 L204.88,154.22 L205.2,154.26 L205.53,154.31 L205.85,154.35 L206.18,154.4 L206.5,154.44 L206.83,154.49 L207.15,154.53 L207.48,154.58 L207.8,154.62 L208.13,154.67 L208.45,154.72 L208.78,154.77 L209.1,154.82 L209.43,154.87 L209.75,154.92 L210.08,154.97 L210.4,155.02 L210.73,155.07 L211.05,155.12 L211.38,155.17 L211.7,155.22 L212.03,155.28 L212.35,155.33 L212.68,155.38 L213,155.44 L213.33,155.49 L213.65,155.55 L213.98,155.6 L214.3,155.66 L214.63,155.71 L214.95,155.77 L215.28,155.83 L215.6,155.89 L215.93,155.94 L216.25,156 L216.58,156.06 L216.9,156.12 L217.23,156.18 L217.55,156.24 L217.88,156.3 L218.2,156.36 L218.53,156.42 L218.85,156.49 L219.18,156.55 L219.5,156.61 L219.83,156.67 L220.15,156.74 L220.48,156.8 L220.8,156.86 L221.13,156.93 L221.45,156.99 L221.78,157.06 L222.1,157.13 L222.43,157.19 L222.75,157.26 L223.08,157.32 L223.4,157.39 L223.73,157.46 L224.05,157.53 L224.38,157.6 L224.7,157.66 L225.03,157.73 L225.35,157.8 L225.68,157.87 L226,157.94 L226.33,158.01 L226.65,158.08 L226.98,158.16 L227.3,158.23 L227.63,158.3 L227.95,158.37 L228.28,158.44 L228.61,158.52 L228.93,158.59 L229.26,158.66 L229.58,158.74 L229.91,158.81 L230.23,158.89 L230.56,158.96 L230.88,159.04 L231.21,159.11 L231.53,159.19 L231.86,159.26 L232.18,159.34 L232.51,159.42 L232.83,159.49 L233.16,159.57 L233.48,159.65 L233.81,159.73 L234.13,159.8 L234.46,159.88 L234.78,159.96 L235.11,160.04 L235.43,160.12 L235.76,160.2 L236.08,160.28 L236.41,160.36 L236.73,160.44 L237.06,160.52 L237.38,160.6 L237.71,160.68 L238.03,160.77 L238.36,160.85 L238.68,160.93 L239.01,161.01 L239.33,161.1 L239.66,161.18 L239.98,161.26 L240.31,161.35 L240.63,161.43 L240.96,161.51 L241.28,161.6 L241.61,161.68 L241.93,161.77 L242.26,161.85 L242.58,161.94 L242.91,162.02 L243.23,162.11 L243.56,162.19 L243.88,162.28 L244.21,162.37 L244.53,162.45 L244.86,162.54 L245.18,162.63 L245.51,162.71 L245.83,162.8 L246.16,162.89 L246.48,162.98 L246.81,163.07 L247.13,163.16 L247.46,163.24 L247.78,163.33 L248.11,163.42 L248.43,163.51 L248.76,163.6 L249.08,163.69 L249.41,163.78 L249.73,163.87 L250.06,163.97 L250.38,164.06 L250.71,164.15 L251.03,164.24 L251.36,164.33 L251.68,164.43 L252.01,164.52 L252.33,164.61 L252.66,164.7 L252.98,164.8 L253.31,164.89 L253.63,164.98 L253.96,165.08 L254.28,165.17 L254.61,165.27 L254.94,165.36 L255.26,165.46 L255.59,165.55 L255.91,165.65 L256.24,165.75 L256.56,165.84 L256.89,165.94 L257.21,166.04 L257.54,166.13 L257.86,166.23 L258.19,166.33 L258.51,166.43 L258.84,166.52 L259.16,166.62 L259.49,166.72 L259.81,166.82 L260.14,166.92 L260.46,167.02 L260.79,167.12 L261.11,167.22 L261.44,167.32 L261.76,167.42 L262.09,167.52 L262.41,167.62 L262.74,167.72 L263.06,167.83 L263.39,167.93 L263.71,168.03 L264.04,168.13 L264.36,168.24 L264.69,168.34 L265.01,168.44 L265.34,168.55 L265.66,168.65 L265.99,168.75 L266.31,168.86 L266.64,168.96 L266.96,169.07 L267.29,169.17 L267.61,169.28 L267.94,169.39 L268.26,169.49 L268.59,169.6 L268.91,169.71 L269.24,169.81 L269.56,169.92 L269.89,170.03 L270.21,170.14 L270.54,170.25 L270.86,170.35 L271.19,170.46 L271.51,170.57 L271.84,170.68 L272.16,170.79 L272.49,170.9 L272.81,171.01 L273.14,171.12 L273.46,171.23 L273.79,171.35 L274.11,171.46 L274.44,171.57 L274.76,171.68 L275.09,171.79 L275.41,171.91 L275.74,172.02 L276.06,172.13 L276.39,172.25 L276.71,172.36 L277.04,172.48 L277.36,172.59 L277.69,172.71 L278.01,172.82 L278.34,172.94 L278.66,173.05 L278.99,173.17 L279.31,173.28 L279.64,173.4 L279.96,173.52 L280.29,173.64 L280.62,173.75 L280.94,173.87 L281.27,173.99 L281.59,174.11 L281.92,174.23 L282.24,174.35 L282.57,174.46 L282.89,174.58 L283.22,174.7 L283.54,174.82 L283.87,174.94 L284.19,175.07 L284.52,175.19 L284.84,175.31 L285.17,175.43 L285.49,175.55 L285.82,175.67 L286.14,175.8 L286.47,175.92 L286.79,176.04 L287.12,176.16 L287.44,176.29 L287.77,176.41 L288.09,176.54 L288.42,176.66 L288.74,176.78 L289.07,176.91 L289.39,177.03 L289.72,177.16 L290.04,177.28 L290.37,177.41 L290.69,177.54 L291.02,177.66 L291.34,177.79 L291.67,177.92 L291.99,178.04 L292.32,178.17 L292.64,178.3 L292.97,178.43 L293.29,178.55 L293.62,178.68 L293.94,178.81 L294.27,178.94 L294.59,179.07 L294.92,179.2 L295.24,179.33 L295.57,179.46 L295.89,179.59 L296.22,179.72 L296.54,179.85 L296.87,179.98 L297.19,180.11 L297.52,180.24 L297.84,180.37 L298.17,180.51 L298.49,180.64 L298.82,180.77 L299.14,180.9 L299.47,181.03 L299.79,181.17 L300.12,181.3 L300.44,181.43 L300.77,181.57 L301.09,181.7 L301.42,181.84 L301.74,181.97 L302.07,182.1 L302.39,182.24 L302.72,182.37 L303.04,182.51 L303.37,182.64 L303.69,182.78 L304.02,182.92 L304.34,183.05 L304.67,183.19 L304.99,183.32 L305.32,183.46 L305.64,183.6 L305.97,183.73 L306.29,183.87 L306.62,184.01 L306.95,184.15 L307.27,184.29 L307.6,184.42 L307.92,184.56 L308.25,184.7 L308.57,184.84 L308.9,184.98 L309.22,185.12 L309.55,185.26 L309.87,185.4 L310.2,185.54 L310.52,185.68 L310.85,185.82 L311.17,185.96 L311.5,186.1 L311.82,186.24 L312.15,186.38 L312.47,186.52 L312.8,186.66 L313.12,186.8 L313.45,186.94 L313.77,187.08 L314.1,187.23 L314.42,187.37 L314.75,187.51 L315.07,187.65 L315.4,187.79 L315.72,187.94 L316.05,188.08 L316.37,188.22 L316.7,188.37 L317.02,188.51 L317.35,188.65 L317.67,188.8 L318,188.94 L318.32,189.08 L318.65,189.23 L318.97,189.37 L319.3,189.51 L319.62,189.66 L319.95,189.8 L320.27,189.95 L320.6,190.09 L320.92,190.23 L321.25,190.38 L321.57,190.52 L321.9,190.67 L322.22,190.81 L322.55,190.96 L322.87,191.1 L323.2,191.25 L323.52,191.39 L323.85,191.54 L324.17,191.68 L324.5,191.83 L324.82,191.97 L325.15,192.12 L325.47,192.26 L325.8,192.41 L326.12,192.55 L326.45,192.7 L326.77,192.85 L327.1,192.99 L327.42,193.14 L327.75,193.28 L328.07,193.43 L328.4,193.57 L328.72,193.72 L329.05,193.86 L329.37,194.01 L329.7,194.16 L330.02,194.3 L330.35,194.45 L330.67,194.59 L331,194.74 L331.32,194.88 L331.65,195.03 L331.97,195.18 L332.3,195.32" fill="none" stroke="#4189cb" stroke-width="1.0" stroke-linejoin="round" stroke-linecap="round" />
<path d="M202.5,208 L202.83,208.01 L203.15,208.03 L203.48,208.04 L203.8,208.05 L204.13,208.06 L204.45,208.07 L204.78,208.07 L205.1,208.08 L205.43,208.09 L205.75,208.09 L206.08,208.1 L206.4,208.1 L206.73,208.1 L207.05,208.1 L207.38,208.1 L207.71,208.1 L208.03,208.1 L208.36,208.1 L208.68,208.1 L209.01,208.09 L209.33,208.09 L209.66,208.08 L209.98,208.07 L210.31,208.06 L210.63,208.06 L210.96,208.05 L211.28,208.04 L211.61,208.02 L211.93,208.01 L212.26,208 L212.58,207.98 L212.91,207.97 L213.24,207.95 L213.56,207.94 L213.89,207.92 L214.21,207.9 L214.54,207.88 L214.86,207.86 L215.19,207.84 L215.51,207.82 L215.84,207.79 L216.16,207.77 L216.49,207.74 L216.81,207.72 L217.14,207.69 L217.46,207.66 L217.79,207.64 L218.12,207.61 L218.44,207.58 L218.77,207.55 L219.09,207.52 L219.42,207.48 L219.74,207.45 L220.07,207.42 L220.39,207.38 L220.72,207.35 L221.04,207.31 L221.37,207.27 L221.69,207.23 L222.02,207.19 L222.34,207.15 L222.67,207.11 L222.99,207.07 L223.32,207.03 L223.65,206.99 L223.97,206.94 L224.3,206.9 L224.62,206.85 L224.95,206.81 L225.27,206.76 L225.6,206.71 L225.92,206.67 L226.25,206.62 L226.57,206.57 L226.9,206.52 L227.22,206.46 L227.55,206.41 L227.87,206.36 L228.2,206.31 L228.53,206.25 L228.85,206.2 L229.18,206.14 L229.5,206.08 L229.83,206.03 L230.15,205.97 L230.48,205.91 L230.8,205.85 L231.13,205.79 L231.45,205.73 L231.78,205.67 L232.1,205.6 L232.43,205.54 L232.75,205.48 L233.08,205.41 L233.4,205.35 L233.73,205.28 L234.06,205.21 L234.38,205.15 L234.71,205.08 L235.03,205.01 L235.36,204.94 L235.68,204.87 L236.01,204.8 L236.33,204.73 L236.66,204.65 L236.98,204.58 L237.31,204.51 L237.63,204.43 L237.96,204.36 L238.28,204.28 L238.61,204.21 L238.94,204.13 L239.26,204.05 L239.59,203.97 L239.91,203.89 L240.24,203.81 L240.56,203.73 L240.89,203.65 L241.21,203.57 L241.54,203.49 L241.86,203.41 L242.19,203.32 L242.51,203.24 L242.84,203.16 L243.16,203.07 L243.49,202.98 L243.81,202.9 L244.14,202.81 L244.47,202.72 L244.79,202.63 L245.12,202.55 L245.44,202.46 L245.77,202.37 L246.09,202.27 L246.42,202.18 L246.74,202.09 L247.07,202 L247.39,201.91 L247.72,201.81 L248.04,201.72 L248.37,201.62 L248.69,201.53 L249.02,201.43 L249.35,201.34 L249.67,201.24 L250,201.14 L250.32,201.04 L250.65,200.94 L250.97,200.84 L251.3,200.74 L251.62,200.64 L251.95,200.54 L252.27,200.44 L252.6,200.34 L252.92,200.24 L253.25,200.13 L253.57,200.03 L253.9,199.93 L254.22,199.82 L254.55,199.72 L254.88,199.61 L255.2,199.5 L255.53,199.4 L255.85,199.29 L256.18,199.18 L256.5,199.07 L256.83,198.96 L257.15,198.86 L257.48,198.75 L257.8,198.63 L258.13,198.52 L258.45,198.41 L258.78,198.3 L259.1,198.19 L259.43,198.08 L259.76,197.96 L260.08,197.85 L260.41,197.74 L260.73,197.62 L261.06,197.51 L261.38,197.39 L261.71,197.27 L262.03,197.16 L262.36,197.04 L262.68,196.92 L263.01,196.81 L263.33,196.69 L263.66,196.57 L263.98,196.45 L264.31,196.33 L264.63,196.21 L264.96,196.09 L265.29,195.97 L265.61,195.85 L265.94,195.73 L266.26,195.6 L266.59,195.48 L266.91,195.36 L267.24,195.24 L267.56,195.11 L267.89,194.99 L268.21,194.86 L268.54,194.74 L268.86,194.61 L269.19,194.49 L269.51,194.36 L269.84,194.23 L270.17,194.11 L270.49,193.98 L270.82,193.85 L271.14,193.72 L271.47,193.6 L271.79,193.47 L272.12,193.34 L272.44,193.21 L272.77,193.08 L273.09,192.95 L273.42,192.82 L273.74,192.69 L274.07,192.56 L274.39,192.42 L274.72,192.29 L275.04,192.16 L275.37,192.03 L275.7,191.89 L276.02,191.76 L276.35,191.63 L276.67,191.49 L277,191.36 L277.32,191.23 L277.65,191.09 L277.97,190.96 L278.3,190.82 L278.62,190.68 L278.95,190.55 L279.27,190.41 L279.6,190.28 L279.92,190.14 L280.25,190 L280.58,189.87 L280.9,189.73 L281.23,189.59 L281.55,189.46 L281.88,189.32 L282.2,189.18 L282.53,189.04 L282.85,188.91 L283.18,188.77 L283.5,188.63 L283.83,188.5 L284.15,188.36 L284.48,188.22 L284.8,188.08 L285.13,187.95 L285.45,187.81 L285.78,187.67 L286.11,187.54 L286.43,187.4 L286.76,187.26 L287.08,187.13 L287.41,186.99 L287.73,186.85 L288.06,186.72 L288.38,186.58 L288.71,186.45 L289.03,186.31 L289.36,186.18 L289.68,186.04 L290.01,185.91 L290.33,185.77 L290.66,185.64 L290.99,185.51 L291.31,185.37 L291.64,185.24 L291.96,185.11 L292.29,184.98 L292.61,184.85 L292.94,184.71 L293.26,184.58 L293.59,184.45 L293.91,184.32 L294.24,184.2 L294.56,184.07 L294.89,183.94 L295.21,183.81 L295.54,183.68 L295.86,183.56 L296.19,183.43 L296.52,183.31 L296.84,183.18 L297.17,183.06 L297.49,182.94 L297.82,182.81 L298.14,182.69 L298.47,182.57 L298.79,182.45 L299.12,182.33 L299.44,182.21 L299.77,182.09 L300.09,181.97 L300.42,181.86 L300.74,181.74 L301.07,181.63 L301.4,181.51 L301.72,181.4 L302.05,181.28 L302.37,181.17 L302.7,181.06 L303.02,180.95 L303.35,180.84 L303.67,180.73 L304,180.63 L304.32,180.52 L304.65,180.42 L304.97,180.31 L305.3,180.21 L305.62,180.11 L305.95,180 L306.27,179.9 L306.6,179.81 L306.93,179.71 L307.25,179.61 L307.58,179.51 L307.9,179.42 L308.23,179.33 L308.55,179.23 L308.88,179.14 L309.2,179.05 L309.53,178.96 L309.85,178.88 L310.18,178.79 L310.5,178.7 L310.83,178.62 L311.15,178.54 L311.48,178.46 L311.81,178.38 L312.13,178.3 L312.46,178.22 L312.78,178.15 L313.11,178.07 L313.43,178 L313.76,177.93 L314.08,177.86 L314.41,177.79 L314.73,177.72 L315.06,177.65 L315.38,177.59 L315.71,177.53 L316.03,177.46 L316.36,177.4 L316.68,177.35 L317.01,177.29 L317.34,177.23 L317.66,177.18 L317.99,177.13 L318.31,177.08 L318.64,177.03 L318.96,176.98 L319.29,176.94 L319.61,176.89 L319.94,176.85 L320.26,176.81 L320.59,176.77 L320.91,176.73 L321.24,176.7 L321.56,176.66 L321.89,176.63 L322.22,176.6 L322.54,176.57 L322.87,176.55 L323.19,176.52 L323.52,176.5 L323.84,176.48 L324.17,176.46 L324.49,176.44 L324.82,176.43 L325.14,176.42 L325.47,176.4 L325.79,176.4 L326.12,176.39 L326.44,176.38 L326.77,176.38 L327.09,176.38 L327.42,176.38 L327.75,176.38 L328.07,176.39 L328.4,176.39 L328.72,176.4 L329.05,176.42 L329.37,176.43 L329.7,176.44 L330.02,176.46 L330.35,176.48 L330.67,176.5 L331,176.53 L331.32,176.55 L331.65,176.58 L331.97,176.61 L332.3,176.65" fill="none" stroke="#e07c50" stroke-width="1.0" stroke-linejoin="round" stroke-linecap="round" />
<path d="M202.6,153.64 L202.93,154.36 L203.25,155.07 L203.58,155.8 L203.9,156.52 L204.23,157.25 L204.55,157.98 L204.88,158.72 L205.2,159.46 L205.53,160.2 L205.85,160.94 L206.18,161.69 L206.5,162.44 L206.83,163.19 L207.15,163.94 L207.48,164.69 L207.8,165.45 L208.13,166.2 L208.45,166.96 L208.78,167.72 L209.1,168.47 L209.43,169.23 L209.75,169.99 L210.08,170.74 L210.4,171.5 L210.73,172.25 L211.05,173.01 L211.38,173.76 L211.7,174.51 L212.03,175.26 L212.35,176 L212.68,176.75 L213,177.49 L213.33,178.23 L213.65,178.97 L213.98,179.7 L214.3,180.43 L214.63,181.16 L214.95,181.88 L215.28,182.6 L215.6,183.32 L215.93,184.03 L216.25,184.74 L216.58,185.44 L216.9,186.13 L217.23,186.82 L217.55,187.51 L217.88,188.19 L218.2,188.87 L218.53,189.54 L218.85,190.2 L219.18,190.86 L219.5,191.52 L219.83,192.17 L220.15,192.81 L220.48,193.45 L220.8,194.08 L221.13,194.71 L221.45,195.33 L221.78,195.94 L222.1,196.55 L222.43,197.15 L222.75,197.75 L223.08,198.34 L223.4,198.93 L223.73,199.51 L224.05,200.08 L224.38,200.65 L224.7,201.21 L225.03,201.77 L225.35,202.31 L225.68,202.86 L226,203.39 L226.33,203.92 L226.65,204.45 L226.98,204.96 L227.3,205.47 L227.63,205.98 L227.95,206.47 L228.28,206.97 L228.61,207.45 L228.93,207.93 L229.26,208.4 L229.58,208.86 L229.91,209.32 L230.23,209.77 L230.56,210.21 L230.88,210.65 L231.21,211.08 L231.53,211.5 L231.86,211.91 L232.18,212.32 L232.51,212.72 L232.83,213.11 L233.16,213.5 L233.48,213.88 L233.81,214.25 L234.13,214.61 L234.46,214.97 L234.78,215.32 L235.11,215.66 L235.43,215.99 L235.76,216.32 L236.08,216.64 L236.41,216.95 L236.73,217.25 L237.06,217.55 L237.38,217.84 L237.71,218.12 L238.03,218.39 L238.36,218.65 L238.68,218.91 L239.01,219.16 L239.33,219.39 L239.66,219.63 L239.98,219.85 L240.31,220.07 L240.63,220.27 L240.96,220.47 L241.28,220.66 L241.61,220.84 L241.93,221.02 L242.26,221.18 L242.58,221.34 L242.91,221.49 L243.23,221.63 L243.56,221.76 L243.88,221.88 L244.21,221.99 L244.53,222.1 L244.86,222.2 L245.18,222.28 L245.51,222.36 L245.83,222.43 L246.16,222.49 L246.48,222.54 L246.81,222.59 L247.13,222.62 L247.46,222.64 L247.78,222.66 L248.11,222.67 L248.43,222.67 L248.76,222.66 L249.08,222.64 L249.41,222.62 L249.73,222.59 L250.06,222.55 L250.38,222.5 L250.71,222.45 L251.03,222.39 L251.36,222.32 L251.68,222.24 L252.01,222.16 L252.33,222.07 L252.66,221.97 L252.98,221.87 L253.31,221.76 L253.63,221.65 L253.96,221.53 L254.28,221.4 L254.61,221.27 L254.94,221.13 L255.26,220.98 L255.59,220.83 L255.91,220.68 L256.24,220.52 L256.56,220.35 L256.89,220.18 L257.21,220.01 L257.54,219.83 L257.86,219.65 L258.19,219.46 L258.51,219.27 L258.84,219.07 L259.16,218.87 L259.49,218.67 L259.81,218.46 L260.14,218.25 L260.46,218.03 L260.79,217.81 L261.11,217.59 L261.44,217.37 L261.76,217.14 L262.09,216.91 L262.41,216.68 L262.74,216.44 L263.06,216.2 L263.39,215.96 L263.71,215.72 L264.04,215.47 L264.36,215.22 L264.69,214.97 L265.01,214.72 L265.34,214.46 L265.66,214.2 L265.99,213.94 L266.31,213.67 L266.64,213.4 L266.96,213.13 L267.29,212.86 L267.61,212.58 L267.94,212.3 L268.26,212.02 L268.59,211.74 L268.91,211.45 L269.24,211.16 L269.56,210.86 L269.89,210.57 L270.21,210.27 L270.54,209.96 L270.86,209.66 L271.19,209.35 L271.51,209.04 L271.84,208.72 L272.16,208.4 L272.49,208.08 L272.81,207.76 L273.14,207.43 L273.46,207.1 L273.79,206.77 L274.11,206.43 L274.44,206.09 L274.76,205.75 L275.09,205.4 L275.41,205.05 L275.74,204.7 L276.06,204.35 L276.39,203.99 L276.71,203.62 L277.04,203.26 L277.36,202.89 L277.69,202.52 L278.01,202.14 L278.34,201.77 L278.66,201.39 L278.99,201 L279.31,200.62 L279.64,200.23 L279.96,199.84 L280.29,199.45 L280.62,199.06 L280.94,198.67 L281.27,198.27 L281.59,197.87 L281.92,197.48 L282.24,197.08 L282.57,196.68 L282.89,196.28 L283.22,195.87 L283.54,195.47 L283.87,195.07 L284.19,194.67 L284.52,194.26 L284.84,193.86 L285.17,193.46 L285.49,193.06 L285.82,192.66 L286.14,192.25 L286.47,191.85 L286.79,191.45 L287.12,191.06 L287.44,190.66 L287.77,190.26 L288.09,189.87 L288.42,189.47 L288.74,189.08 L289.07,188.69 L289.39,188.3 L289.72,187.92 L290.04,187.53 L290.37,187.15 L290.69,186.77 L291.02,186.39 L291.34,186.02 L291.67,185.64 L291.99,185.27 L292.32,184.91 L292.64,184.54 L292.97,184.18 L293.29,183.82 L293.62,183.46 L293.94,183.11 L294.27,182.76 L294.59,182.41 L294.92,182.07 L295.24,181.73 L295.57,181.39 L295.89,181.06 L296.22,180.73 L296.54,180.41 L296.87,180.09 L297.19,179.77 L297.52,179.46 L297.84,179.15 L298.17,178.85 L298.49,178.55 L298.82,178.25 L299.14,177.96 L299.47,177.67 L299.79,177.39 L300.12,177.12 L300.44,176.85 L300.77,176.58 L301.09,176.32 L301.42,176.07 L301.74,175.82 L302.07,175.57 L302.39,175.33 L302.72,175.1 L303.04,174.87 L303.37,174.65 L303.69,174.44 L304.02,174.23 L304.34,174.02 L304.67,173.83 L304.99,173.63 L305.32,173.45 L305.64,173.27 L305.97,173.1 L306.29,172.93 L306.62,172.77 L306.95,172.62 L307.27,172.48 L307.6,172.34 L307.92,172.2 L308.25,172.08 L308.57,171.96 L308.9,171.85 L309.22,171.74 L309.55,171.64 L309.87,171.55 L310.2,171.47 L310.52,171.39 L310.85,171.32 L311.17,171.26 L311.5,171.2 L311.82,171.15 L312.15,171.11 L312.47,171.08 L312.8,171.05 L313.12,171.03 L313.45,171.02 L313.77,171.02 L314.1,171.02 L314.42,171.04 L314.75,171.06 L315.07,171.08 L315.4,171.12 L315.72,171.16 L316.05,171.22 L316.37,171.27 L316.7,171.34 L317.02,171.42 L317.35,171.5 L317.67,171.6 L318,171.7 L318.32,171.81 L318.65,171.92 L318.97,172.05 L319.3,172.18 L319.62,172.33 L319.95,172.48 L320.27,172.64 L320.6,172.81 L320.92,172.99 L321.25,173.17 L321.57,173.37 L321.9,173.57 L322.22,173.79 L322.55,174.01 L322.87,174.24 L323.2,174.48 L323.52,174.73 L323.85,174.99 L324.17,175.26 L324.5,175.54 L324.82,175.83 L325.15,176.12 L325.47,176.43 L325.8,176.75 L326.12,177.07 L326.45,177.41 L326.77,177.75 L327.1,178.11 L327.42,178.47 L327.75,178.85 L328.07,179.23 L328.4,179.63 L328.72,180.03 L329.05,180.45 L329.37,180.87 L329.7,181.31 L330.02,181.75 L330.35,182.21 L330.67,182.68 L331,183.15 L331.32,183.64 L331.65,184.14 L331.97,184.64 L332.3,185.16" fill="none" stroke="#f0bb3a" stroke-width="1.0" stroke-linejoin="round" stroke-linecap="round" />
<path d="M202.5,246.37 L202.83,245.24 L203.15,244.1 L203.48,242.95 L203.8,241.78 L204.13,240.61 L204.45,239.42 L204.78,238.21 L205.1,237 L205.43,235.77 L205.75,234.53 L206.08,233.28 L206.4,232.02 L206.73,230.74 L207.05,229.46 L207.38,228.16 L207.71,226.85 L208.03,225.53 L208.36,224.2 L208.68,222.86 L209.01,221.51 L209.33,220.15 L209.66,218.78 L209.98,217.4 L210.31,216.01 L210.63,214.61 L210.96,213.19 L211.28,211.77 L211.61,210.34 L211.93,208.9 L212.26,207.46 L212.58,206 L212.91,204.54 L213.24,203.09 L213.56,201.64 L213.89,200.2 L214.21,198.77 L214.54,197.37 L214.86,195.98 L215.19,194.63 L215.51,193.3 L215.84,192.01 L216.16,190.76 L216.49,189.56 L216.81,188.4 L217.14,187.3 L217.46,186.23 L217.79,185.22 L218.12,184.24 L218.44,183.31 L218.77,182.42 L219.09,181.57 L219.42,180.75 L219.74,179.97 L220.07,179.23 L220.39,178.52 L220.72,177.84 L221.04,177.19 L221.37,176.57 L221.69,175.98 L222.02,175.42 L222.34,174.88 L222.67,174.36 L222.99,173.87 L223.32,173.4 L223.65,172.95 L223.97,172.53 L224.3,172.14 L224.62,171.76 L224.95,171.41 L225.27,171.08 L225.6,170.78 L225.92,170.5 L226.25,170.24 L226.57,170 L226.9,169.79 L227.22,169.6 L227.55,169.43 L227.87,169.29 L228.2,169.16 L228.53,169.06 L228.85,168.99 L229.18,168.93 L229.5,168.9 L229.83,168.89 L230.15,168.9 L230.48,168.93 L230.8,168.99 L231.13,169.06 L231.45,169.16 L231.78,169.28 L232.1,169.42 L232.43,169.58 L232.75,169.75 L233.08,169.95 L233.4,170.17 L233.73,170.4 L234.06,170.66 L234.38,170.93 L234.71,171.22 L235.03,171.52 L235.36,171.84 L235.68,172.18 L236.01,172.53 L236.33,172.9 L236.66,173.29 L236.98,173.68 L237.31,174.1 L237.63,174.52 L237.96,174.96 L238.28,175.41 L238.61,175.88 L238.94,176.35 L239.26,176.84 L239.59,177.34 L239.91,177.85 L240.24,178.37 L240.56,178.9 L240.89,179.44 L241.21,179.99 L241.54,180.55 L241.86,181.12 L242.19,181.69 L242.51,182.28 L242.84,182.87 L243.16,183.46 L243.49,184.06 L243.81,184.67 L244.14,185.29 L244.47,185.91 L244.79,186.53 L245.12,187.16 L245.44,187.79 L245.77,188.43 L246.09,189.07 L246.42,189.71 L246.74,190.36 L247.07,191.01 L247.39,191.66 L247.72,192.31 L248.04,192.96 L248.37,193.61 L248.69,194.26 L249.02,194.92 L249.35,195.57 L249.67,196.22 L250,196.88 L250.32,197.53 L250.65,198.18 L250.97,198.82 L251.3,199.47 L251.62,200.11 L251.95,200.75 L252.27,201.39 L252.6,202.02 L252.92,202.65 L253.25,203.28 L253.57,203.9 L253.9,204.51 L254.22,205.12 L254.55,205.73 L254.88,206.33 L255.2,206.92 L255.53,207.51 L255.85,208.09 L256.18,208.66 L256.5,209.23 L256.83,209.78 L257.15,210.33 L257.48,210.87 L257.8,211.41 L258.13,211.93 L258.45,212.44 L258.78,212.95 L259.1,213.44 L259.43,213.92 L259.76,214.4 L260.08,214.86 L260.41,215.31 L260.73,215.74 L261.06,216.17 L261.38,216.58 L261.71,216.98 L262.03,217.37 L262.36,217.74 L262.68,218.1 L263.01,218.45 L263.33,218.78 L263.66,219.1 L263.98,219.41 L264.31,219.7 L264.63,219.98 L264.96,220.24 L265.29,220.5 L265.61,220.74 L265.94,220.96 L266.26,221.17 L266.59,221.37 L266.91,221.56 L267.24,221.73 L267.56,221.89 L267.89,222.04 L268.21,222.18 L268.54,222.3 L268.86,222.41 L269.19,222.5 L269.51,222.59 L269.84,222.66 L270.17,222.72 L270.49,222.76 L270.82,222.8 L271.14,222.82 L271.47,222.83 L271.79,222.82 L272.12,222.81 L272.44,222.78 L272.77,222.74 L273.09,222.69 L273.42,222.63 L273.74,222.55 L274.07,222.46 L274.39,222.37 L274.72,222.25 L275.04,222.13 L275.37,222 L275.7,221.85 L276.02,221.69 L276.35,221.53 L276.67,221.35 L277,221.15 L277.32,220.95 L277.65,220.74 L277.97,220.51 L278.3,220.27 L278.62,220.03 L278.95,219.77 L279.27,219.5 L279.6,219.22 L279.92,218.92 L280.25,218.62 L280.58,218.31 L280.9,217.98 L281.23,217.65 L281.55,217.3 L281.88,216.95 L282.2,216.58 L282.53,216.2 L282.85,215.81 L283.18,215.42 L283.5,215.01 L283.83,214.59 L284.15,214.16 L284.48,213.73 L284.8,213.28 L285.13,212.83 L285.45,212.36 L285.78,211.89 L286.11,211.41 L286.43,210.92 L286.76,210.42 L287.08,209.92 L287.41,209.41 L287.73,208.89 L288.06,208.36 L288.38,207.83 L288.71,207.29 L289.03,206.74 L289.36,206.19 L289.68,205.63 L290.01,205.06 L290.33,204.49 L290.66,203.91 L290.99,203.33 L291.31,202.74 L291.64,202.15 L291.96,201.55 L292.29,200.95 L292.61,200.34 L292.94,199.73 L293.26,199.11 L293.59,198.49 L293.91,197.87 L294.24,197.24 L294.56,196.61 L294.89,195.98 L295.21,195.34 L295.54,194.7 L295.86,194.06 L296.19,193.41 L296.52,192.77 L296.84,192.12 L297.17,191.47 L297.49,190.82 L297.82,190.16 L298.14,189.51 L298.47,188.86 L298.79,188.21 L299.12,187.56 L299.44,186.91 L299.77,186.27 L300.09,185.63 L300.42,185 L300.74,184.37 L301.07,183.74 L301.4,183.13 L301.72,182.52 L302.05,181.91 L302.37,181.32 L302.7,180.74 L303.02,180.16 L303.35,179.59 L303.67,179.04 L304,178.5 L304.32,177.97 L304.65,177.45 L304.97,176.95 L305.3,176.46 L305.62,175.98 L305.95,175.52 L306.27,175.08 L306.6,174.65 L306.93,174.24 L307.25,173.85 L307.58,173.48 L307.9,173.12 L308.23,172.79 L308.55,172.47 L308.88,172.16 L309.2,171.88 L309.53,171.61 L309.85,171.36 L310.18,171.13 L310.5,170.91 L310.83,170.71 L311.15,170.53 L311.48,170.36 L311.81,170.21 L312.13,170.07 L312.46,169.95 L312.78,169.84 L313.11,169.75 L313.43,169.67 L313.76,169.61 L314.08,169.56 L314.41,169.53 L314.73,169.51 L315.06,169.51 L315.38,169.51 L315.71,169.54 L316.03,169.57 L316.36,169.62 L316.68,169.68 L317.01,169.75 L317.34,169.84 L317.66,169.94 L317.99,170.05 L318.31,170.17 L318.64,170.31 L318.96,170.45 L319.29,170.61 L319.61,170.78 L319.94,170.97 L320.26,171.16 L320.59,171.37 L320.91,171.58 L321.24,171.81 L321.56,172.05 L321.89,172.3 L322.22,172.56 L322.54,172.84 L322.87,173.12 L323.19,173.41 L323.52,173.72 L323.84,174.03 L324.17,174.36 L324.49,174.69 L324.82,175.04 L325.14,175.39 L325.47,175.76 L325.79,176.13 L326.12,176.52 L326.44,176.92 L326.77,177.34 L327.09,177.79 L327.42,178.25 L327.75,178.74 L328.07,179.26 L328.4,179.8 L328.72,180.39 L329.05,181 L329.37,181.66 L329.7,182.35 L330.02,183.09 L330.35,183.87 L330.67,184.7 L331,185.58 L331.32,186.52 L331.65,187.51 L331.97,188.55 L332.3,189.66" fill="none" stroke="#9d4cb8" stroke-width="1.0" stroke-linejoin="round" stroke-linecap="round" />
<line x1="322" y1="214.5" x2="331.6" y2="214.5" stroke="#4189cb" stroke-width="0.9"/>
<text x="333" y="216.4" font-size="6.2" fill="#444" style="stroke:none">H<tspan font-size="4.4" dx="0.5" dy="2.6">1</tspan></text>
<path d="M333.5,210.56 C334.35,208.93 335.2,211.27 336.05,209.64 L336.9,209.32" fill="none" stroke="#4a4a4a" stroke-width="0.62"/>
<line x1="322" y1="224.5" x2="331.6" y2="224.5" stroke="#e07c50" stroke-width="0.9"/>
<text x="333" y="226.4" font-size="6.2" fill="#444" style="stroke:none">H<tspan font-size="4.4" dx="0.5" dy="2.6">2</tspan></text>
<path d="M333.5,220.56 C334.35,218.93 335.2,221.27 336.05,219.64 L336.9,219.32" fill="none" stroke="#4a4a4a" stroke-width="0.62"/>
<line x1="322" y1="234.5" x2="331.6" y2="234.5" stroke="#f0bb3a" stroke-width="0.9"/>
<text x="333" y="236.4" font-size="6.2" fill="#444" style="stroke:none">H<tspan font-size="4.4" dx="0.5" dy="2.6">3</tspan></text>
<path d="M333.5,230.56 C334.35,228.93 335.2,231.27 336.05,229.64 L336.9,229.32" fill="none" stroke="#4a4a4a" stroke-width="0.62"/>
<line x1="322" y1="244.5" x2="331.6" y2="244.5" stroke="#9d4cb8" stroke-width="0.9"/>
<text x="333" y="246.4" font-size="6.2" fill="#444" style="stroke:none">H<tspan font-size="4.4" dx="0.5" dy="2.6">4</tspan></text>
<path d="M333.5,240.56 C334.35,238.93 335.2,241.27 336.05,239.64 L336.9,239.32" fill="none" stroke="#4a4a4a" stroke-width="0.62"/>
<line x1="202.4" y1="279.3" x2="202.4" y2="387.9" stroke="#bdbdbd" stroke-width="1.0"/>
<line x1="202.4" y1="387.9" x2="343.9" y2="387.9" stroke="#bdbdbd" stroke-width="1.0"/>
<line x1="202.4" y1="279.3" x2="203.8" y2="279.3" stroke="#bdbdbd" stroke-width="1.0"/>
<text x="200.1" y="281.4" font-size="5.9" text-anchor="end" fill="#262626" font-weight="normal" >2</text>
<line x1="202.4" y1="301.02" x2="203.8" y2="301.02" stroke="#bdbdbd" stroke-width="1.0"/>
<text x="200.1" y="303.12" font-size="5.9" text-anchor="end" fill="#262626" font-weight="normal" >1</text>
<line x1="202.4" y1="322.74" x2="203.8" y2="322.74" stroke="#bdbdbd" stroke-width="1.0"/>
<text x="200.1" y="324.84" font-size="5.9" text-anchor="end" fill="#262626" font-weight="normal" >0</text>
<line x1="202.4" y1="344.46" x2="203.8" y2="344.46" stroke="#bdbdbd" stroke-width="1.0"/>
<text x="200.1" y="346.56" font-size="5.9" text-anchor="end" fill="#262626" font-weight="normal" >-1</text>
<line x1="202.4" y1="366.18" x2="203.8" y2="366.18" stroke="#bdbdbd" stroke-width="1.0"/>
<text x="200.1" y="368.28" font-size="5.9" text-anchor="end" fill="#262626" font-weight="normal" >-2</text>
<line x1="202.4" y1="387.9" x2="203.8" y2="387.9" stroke="#bdbdbd" stroke-width="1.0"/>
<text x="200.1" y="390" font-size="5.9" text-anchor="end" fill="#262626" font-weight="normal" >-3</text>
<line x1="202.4" y1="387.9" x2="202.4" y2="386.5" stroke="#bdbdbd" stroke-width="1.0"/>
<text x="202.4" y="396.3" font-size="5.9" text-anchor="middle" fill="#262626" font-weight="normal" >0</text>
<line x1="230.7" y1="387.9" x2="230.7" y2="386.5" stroke="#bdbdbd" stroke-width="1.0"/>
<text x="230.7" y="396.3" font-size="5.9" text-anchor="middle" fill="#262626" font-weight="normal" >200</text>
<line x1="259" y1="387.9" x2="259" y2="386.5" stroke="#bdbdbd" stroke-width="1.0"/>
<text x="259" y="396.3" font-size="5.9" text-anchor="middle" fill="#262626" font-weight="normal" >400</text>
<line x1="287.3" y1="387.9" x2="287.3" y2="386.5" stroke="#bdbdbd" stroke-width="1.0"/>
<text x="287.3" y="396.3" font-size="5.9" text-anchor="middle" fill="#262626" font-weight="normal" >600</text>
<line x1="315.6" y1="387.9" x2="315.6" y2="386.5" stroke="#bdbdbd" stroke-width="1.0"/>
<text x="315.6" y="396.3" font-size="5.9" text-anchor="middle" fill="#262626" font-weight="normal" >800</text>
<line x1="343.9" y1="387.9" x2="343.9" y2="386.5" stroke="#bdbdbd" stroke-width="1.0"/>
<text x="343.9" y="396.3" font-size="5.9" text-anchor="middle" fill="#262626" font-weight="normal" >1000</text>
<text x="273.2" y="403.8" font-size="6.5" text-anchor="middle" fill="#262626" font-weight="normal" >x, km</text>
<text x="181" y="277.6" font-size="8.2" text-anchor="start" fill="#111" font-weight="bold" >e</text>
<text x="0" y="0" font-size="6.5" fill="#262626" text-anchor="middle" transform="translate(191.8 333.6) rotate(-90)">H, m</text>
<path d="M186.62,339.9 C185.49,339.1 187.11,338.3 185.99,337.5 L185.76,336.7" fill="none" stroke="#4a4a4a" stroke-width="0.7"/>
<path d="M202.5,322.5 L202.81,322.5 L203.12,322.5 L203.43,322.5 L203.74,322.5 L204.05,322.5 L204.36,322.5 L204.66,322.5 L204.97,322.5 L205.28,322.5 L205.59,322.5 L205.9,322.5 L206.21,322.5 L206.52,322.5 L206.83,322.5 L207.14,322.5 L207.45,322.5 L207.76,322.5 L208.07,322.5 L208.38,322.5 L208.69,322.5 L208.99,322.5 L209.3,322.5 L209.61,322.5 L209.92,322.5 L210.23,322.5 L210.54,322.5 L210.85,322.5 L211.16,322.5 L211.47,322.5 L211.78,322.5 L212.09,322.5 L212.4,322.5 L212.71,322.5 L213.02,322.5 L213.32,322.5 L213.63,322.5 L213.94,322.5 L214.25,322.5 L214.56,322.5 L214.87,322.5 L215.18,322.5 L215.49,322.5 L215.8,322.5 L216.11,322.5 L216.42,322.5 L216.73,322.5 L217.04,322.5 L217.35,322.5 L217.65,322.5 L217.96,322.5 L218.27,322.5 L218.58,322.5 L218.89,322.5 L219.2,322.5 L219.51,322.5 L219.82,322.5 L220.13,322.5 L220.44,322.5 L220.75,322.5 L221.06,322.5 L221.37,322.5 L221.67,322.5 L221.98,322.5 L222.29,322.5 L222.6,322.5 L222.91,322.5 L223.22,322.5 L223.53,322.5 L223.84,322.5 L224.15,322.5 L224.46,322.5 L224.77,322.5 L225.08,322.5 L225.39,322.5 L225.7,322.49 L226,322.49 L226.31,322.49 L226.62,322.49 L226.93,322.49 L227.24,322.49 L227.55,322.49 L227.86,322.49 L228.17,322.49 L228.48,322.49 L228.79,322.49 L229.1,322.49 L229.41,322.49 L229.72,322.49 L230.03,322.48 L230.33,322.48 L230.64,322.48 L230.95,322.48 L231.26,322.48 L231.57,322.48 L231.88,322.48 L232.19,322.48 L232.5,322.48 L232.81,322.48 L233.12,322.47 L233.43,322.47 L233.74,322.47 L234.05,322.47 L234.36,322.47 L234.66,322.47 L234.97,322.47 L235.28,322.47 L235.59,322.47 L235.9,322.47 L236.21,322.46 L236.52,322.46 L236.83,322.46 L237.14,322.46 L237.45,322.46 L237.76,322.46 L238.07,322.46 L238.38,322.46 L238.68,322.45 L238.99,322.45 L239.3,322.45 L239.61,322.45 L239.92,322.45 L240.23,322.45 L240.54,322.45 L240.85,322.45 L241.16,322.45 L241.47,322.44 L241.78,322.44 L242.09,322.44 L242.4,322.44 L242.71,322.44 L243.01,322.44 L243.32,322.44 L243.63,322.43 L243.94,322.43 L244.25,322.43 L244.56,322.43 L244.87,322.43 L245.18,322.42 L245.49,322.42 L245.8,322.42 L246.11,322.42 L246.42,322.42 L246.73,322.42 L247.04,322.41 L247.34,322.41 L247.65,322.41 L247.96,322.41 L248.27,322.4 L248.58,322.4 L248.89,322.4 L249.2,322.4 L249.51,322.4 L249.82,322.39 L250.13,322.39 L250.44,322.39 L250.75,322.39 L251.06,322.38 L251.37,322.38 L251.67,322.38 L251.98,322.38 L252.29,322.37 L252.6,322.37 L252.91,322.37 L253.22,322.37 L253.53,322.36 L253.84,322.36 L254.15,322.36 L254.46,322.35 L254.77,322.35 L255.08,322.35 L255.39,322.35 L255.69,322.34 L256,322.34 L256.31,322.34 L256.62,322.33 L256.93,322.33 L257.24,322.33 L257.55,322.32 L257.86,322.32 L258.17,322.32 L258.48,322.32 L258.79,322.31 L259.1,322.31 L259.41,322.31 L259.72,322.3 L260.02,322.3 L260.33,322.3 L260.64,322.29 L260.95,322.29 L261.26,322.29 L261.57,322.28 L261.88,322.28 L262.19,322.28 L262.5,322.27 L262.81,322.27 L263.12,322.27 L263.43,322.26 L263.74,322.26 L264.05,322.26 L264.35,322.25 L264.66,322.25 L264.97,322.25 L265.28,322.24 L265.59,322.24 L265.9,322.24 L266.21,322.23 L266.52,322.23 L266.83,322.23 L267.14,322.22 L267.45,322.22 L267.76,322.21 L268.07,322.21 L268.38,322.2 L268.68,322.2 L268.99,322.2 L269.3,322.19 L269.61,322.19 L269.92,322.18 L270.23,322.18 L270.54,322.17 L270.85,322.17 L271.16,322.16 L271.47,322.16 L271.78,322.15 L272.09,322.14 L272.4,322.14 L272.71,322.13 L273.01,322.13 L273.32,322.12 L273.63,322.11 L273.94,322.11 L274.25,322.1 L274.56,322.09 L274.87,322.09 L275.18,322.08 L275.49,322.07 L275.8,322.06 L276.11,322.05 L276.42,322.05 L276.73,322.04 L277.03,322.03 L277.34,322.02 L277.65,322.01 L277.96,322 L278.27,321.99 L278.58,321.98 L278.89,321.96 L279.2,321.94 L279.51,321.92 L279.82,321.9 L280.13,321.88 L280.44,321.85 L280.75,321.82 L281.06,321.79 L281.36,321.76 L281.67,321.73 L281.98,321.7 L282.29,321.66 L282.6,321.62 L282.91,321.59 L283.22,321.55 L283.53,321.51 L283.84,321.47 L284.15,321.43 L284.46,321.39 L284.77,321.35 L285.08,321.31 L285.39,321.27 L285.69,321.23 L286,321.19 L286.31,321.15 L286.62,321.11 L286.93,321.07 L287.24,321.03 L287.55,320.99 L287.86,320.95 L288.17,320.92 L288.48,320.88 L288.79,320.84 L289.1,320.81 L289.41,320.78 L289.72,320.74 L290.02,320.71 L290.33,320.67 L290.64,320.64 L290.95,320.61 L291.26,320.57 L291.57,320.54 L291.88,320.51 L292.19,320.47 L292.5,320.44 L292.81,320.4 L293.12,320.37 L293.43,320.33 L293.74,320.3 L294.04,320.26 L294.35,320.22 L294.66,320.18 L294.97,320.14 L295.28,320.1 L295.59,320.06 L295.9,320.02 L296.21,319.98 L296.52,319.93 L296.83,319.89 L297.14,319.84 L297.45,319.79 L297.76,319.74 L298.07,319.69 L298.37,319.63 L298.68,319.58 L298.99,319.51 L299.3,319.45 L299.61,319.38 L299.92,319.31 L300.23,319.24 L300.54,319.16 L300.85,319.08 L301.16,319 L301.47,318.92 L301.78,318.84 L302.09,318.76 L302.4,318.67 L302.7,318.59 L303.01,318.5 L303.32,318.41 L303.63,318.32 L303.94,318.23 L304.25,318.13 L304.56,318.03 L304.87,317.93 L305.18,317.82 L305.49,317.72 L305.8,317.6 L306.11,317.49 L306.42,317.37 L306.73,317.25 L307.03,317.12 L307.34,316.99 L307.65,316.86 L307.96,316.71 L308.27,316.57 L308.58,316.42 L308.89,316.26 L309.2,316.1 L309.51,315.94 L309.82,315.77 L310.13,315.6 L310.44,315.43 L310.75,315.25 L311.05,315.07 L311.36,314.88 L311.67,314.69 L311.98,314.49 L312.29,314.28 L312.6,314.07 L312.91,313.86 L313.22,313.64 L313.53,313.41 L313.84,313.17 L314.15,312.94 L314.46,312.69 L314.77,312.44 L315.08,312.19 L315.38,311.93 L315.69,311.67 L316,311.4 L316.31,311.13 L316.62,310.85 L316.93,310.57 L317.24,310.27 L317.55,309.95 L317.86,309.62 L318.17,309.26 L318.48,308.89 L318.79,308.48 L319.1,308.05 L319.41,307.58 L319.71,307.07 L320.02,306.51 L320.33,305.92 L320.64,305.29 L320.95,304.61 L321.26,303.89 L321.57,303.11 L321.88,302.24 L322.19,301.26 L322.5,300.19 L322.81,299.01 L323.12,297.73 L323.43,296.18 L323.74,294.34 L324.04,292.39 L324.35,290.47 L324.66,288.66 L324.97,286.85 L325.28,285.01 L325.59,283.12 L325.9,281.2" fill="none" stroke="#4189cb" stroke-width="1.0" stroke-linejoin="round" stroke-linecap="round" />
<path d="M202.5,284.36 L202.81,284.42 L203.12,284.47 L203.43,284.52 L203.74,284.58 L204.05,284.63 L204.36,284.69 L204.66,284.74 L204.97,284.8 L205.28,284.85 L205.59,284.9 L205.9,284.96 L206.21,285.01 L206.52,285.07 L206.83,285.13 L207.14,285.18 L207.45,285.24 L207.76,285.29 L208.07,285.35 L208.38,285.4 L208.69,285.46 L208.99,285.52 L209.3,285.57 L209.61,285.63 L209.92,285.68 L210.23,285.74 L210.54,285.8 L210.85,285.85 L211.16,285.91 L211.47,285.97 L211.78,286.03 L212.09,286.08 L212.4,286.14 L212.71,286.2 L213.02,286.26 L213.32,286.31 L213.63,286.37 L213.94,286.43 L214.25,286.49 L214.56,286.55 L214.87,286.6 L215.18,286.66 L215.49,286.72 L215.8,286.78 L216.11,286.84 L216.42,286.9 L216.73,286.96 L217.04,287.02 L217.35,287.08 L217.65,287.13 L217.96,287.19 L218.27,287.25 L218.58,287.31 L218.89,287.37 L219.2,287.43 L219.51,287.49 L219.82,287.55 L220.13,287.61 L220.44,287.67 L220.75,287.74 L221.06,287.8 L221.37,287.86 L221.67,287.92 L221.98,287.98 L222.29,288.04 L222.6,288.1 L222.91,288.16 L223.22,288.22 L223.53,288.29 L223.84,288.35 L224.15,288.41 L224.46,288.47 L224.77,288.53 L225.08,288.6 L225.39,288.66 L225.7,288.72 L226,288.78 L226.31,288.85 L226.62,288.91 L226.93,288.97 L227.24,289.04 L227.55,289.1 L227.86,289.16 L228.17,289.23 L228.48,289.29 L228.79,289.35 L229.1,289.42 L229.41,289.48 L229.72,289.55 L230.03,289.61 L230.33,289.68 L230.64,289.74 L230.95,289.8 L231.26,289.87 L231.57,289.93 L231.88,290 L232.19,290.06 L232.5,290.13 L232.81,290.2 L233.12,290.26 L233.43,290.33 L233.74,290.39 L234.05,290.46 L234.36,290.53 L234.66,290.59 L234.97,290.66 L235.28,290.72 L235.59,290.79 L235.9,290.86 L236.21,290.92 L236.52,290.99 L236.83,291.06 L237.14,291.13 L237.45,291.19 L237.76,291.26 L238.07,291.33 L238.38,291.4 L238.68,291.46 L238.99,291.53 L239.3,291.6 L239.61,291.67 L239.92,291.74 L240.23,291.81 L240.54,291.88 L240.85,291.94 L241.16,292.01 L241.47,292.08 L241.78,292.15 L242.09,292.22 L242.4,292.29 L242.71,292.36 L243.01,292.43 L243.32,292.5 L243.63,292.57 L243.94,292.64 L244.25,292.71 L244.56,292.78 L244.87,292.85 L245.18,292.92 L245.49,292.99 L245.8,293.06 L246.11,293.14 L246.42,293.21 L246.73,293.28 L247.04,293.35 L247.34,293.42 L247.65,293.49 L247.96,293.57 L248.27,293.64 L248.58,293.71 L248.89,293.78 L249.2,293.86 L249.51,293.93 L249.82,294 L250.13,294.07 L250.44,294.15 L250.75,294.22 L251.06,294.29 L251.37,294.37 L251.67,294.44 L251.98,294.51 L252.29,294.59 L252.6,294.66 L252.91,294.74 L253.22,294.81 L253.53,294.89 L253.84,294.96 L254.15,295.03 L254.46,295.11 L254.77,295.18 L255.08,295.26 L255.39,295.34 L255.69,295.41 L256,295.49 L256.31,295.56 L256.62,295.64 L256.93,295.71 L257.24,295.79 L257.55,295.87 L257.86,295.94 L258.17,296.02 L258.48,296.1 L258.79,296.17 L259.1,296.25 L259.41,296.33 L259.72,296.41 L260.02,296.48 L260.33,296.56 L260.64,296.64 L260.95,296.72 L261.26,296.79 L261.57,296.87 L261.88,296.95 L262.19,297.03 L262.5,297.11 L262.81,297.19 L263.12,297.27 L263.43,297.34 L263.74,297.42 L264.05,297.5 L264.35,297.58 L264.66,297.66 L264.97,297.74 L265.28,297.82 L265.59,297.9 L265.9,297.98 L266.21,298.06 L266.52,298.14 L266.83,298.22 L267.14,298.3 L267.45,298.39 L267.76,298.47 L268.07,298.55 L268.38,298.63 L268.68,298.71 L268.99,298.79 L269.3,298.87 L269.61,298.96 L269.92,299.04 L270.23,299.12 L270.54,299.2 L270.85,299.29 L271.16,299.37 L271.47,299.45 L271.78,299.54 L272.09,299.62 L272.4,299.7 L272.71,299.79 L273.01,299.87 L273.32,299.95 L273.63,300.04 L273.94,300.12 L274.25,300.21 L274.56,300.29 L274.87,300.37 L275.18,300.46 L275.49,300.54 L275.8,300.63 L276.11,300.71 L276.42,300.8 L276.73,300.88 L277.03,300.97 L277.34,301.06 L277.65,301.14 L277.96,301.23 L278.27,301.31 L278.58,301.4 L278.89,301.49 L279.2,301.57 L279.51,301.66 L279.82,301.75 L280.13,301.84 L280.44,301.92 L280.75,302.01 L281.06,302.1 L281.36,302.19 L281.67,302.27 L281.98,302.36 L282.29,302.45 L282.6,302.54 L282.91,302.63 L283.22,302.72 L283.53,302.8 L283.84,302.89 L284.15,302.98 L284.46,303.07 L284.77,303.16 L285.08,303.25 L285.39,303.34 L285.69,303.43 L286,303.52 L286.31,303.61 L286.62,303.7 L286.93,303.79 L287.24,303.88 L287.55,303.98 L287.86,304.07 L288.17,304.16 L288.48,304.25 L288.79,304.34 L289.1,304.43 L289.41,304.53 L289.72,304.62 L290.02,304.71 L290.33,304.8 L290.64,304.9 L290.95,304.99 L291.26,305.09 L291.57,305.18 L291.88,305.28 L292.19,305.37 L292.5,305.47 L292.81,305.57 L293.12,305.67 L293.43,305.77 L293.74,305.86 L294.04,305.96 L294.35,306.06 L294.66,306.17 L294.97,306.27 L295.28,306.37 L295.59,306.47 L295.9,306.58 L296.21,306.68 L296.52,306.79 L296.83,306.9 L297.14,307 L297.45,307.11 L297.76,307.22 L298.07,307.33 L298.37,307.45 L298.68,307.56 L298.99,307.67 L299.3,307.79 L299.61,307.9 L299.92,308.02 L300.23,308.14 L300.54,308.26 L300.85,308.38 L301.16,308.5 L301.47,308.62 L301.78,308.75 L302.09,308.87 L302.4,309 L302.7,309.13 L303.01,309.26 L303.32,309.39 L303.63,309.52 L303.94,309.65 L304.25,309.79 L304.56,309.93 L304.87,310.07 L305.18,310.2 L305.49,310.35 L305.8,310.49 L306.11,310.63 L306.42,310.78 L306.73,310.93 L307.03,311.08 L307.34,311.23 L307.65,311.38 L307.96,311.54 L308.27,311.69 L308.58,311.85 L308.89,312.01 L309.2,312.17 L309.51,312.34 L309.82,312.5 L310.13,312.67 L310.44,312.84 L310.75,313.01 L311.05,313.19 L311.36,313.36 L311.67,313.54 L311.98,313.72 L312.29,313.9 L312.6,314.09 L312.91,314.27 L313.22,314.46 L313.53,314.65 L313.84,314.84 L314.15,315.04 L314.46,315.24 L314.77,315.44 L315.08,315.64 L315.38,315.84 L315.69,316.05 L316,316.26 L316.31,316.47 L316.62,316.69 L316.93,316.91 L317.24,317.14 L317.55,317.37 L317.86,317.61 L318.17,317.85 L318.48,318.1 L318.79,318.36 L319.1,318.63 L319.41,318.91 L319.71,319.19 L320.02,319.48 L320.33,319.79 L320.64,320.1 L320.95,320.43 L321.26,320.76 L321.57,321.11 L321.88,321.47 L322.19,321.85 L322.5,322.23 L322.81,322.64 L323.12,323.05 L323.43,323.48 L323.74,323.93 L324.04,324.39 L324.35,324.87 L324.66,325.37 L324.97,325.88 L325.28,326.41 L325.59,326.96 L325.9,327.53" fill="none" stroke="#e07c50" stroke-width="1.0" stroke-linejoin="round" stroke-linecap="round" />
<path d="M202.4,375.66 L202.71,375.22 L203.02,374.78 L203.33,374.35 L203.64,373.91 L203.94,373.47 L204.25,373.02 L204.56,372.58 L204.87,372.13 L205.18,371.69 L205.49,371.24 L205.8,370.79 L206.11,370.34 L206.41,369.89 L206.72,369.44 L207.03,368.98 L207.34,368.53 L207.65,368.07 L207.96,367.62 L208.27,367.16 L208.58,366.7 L208.88,366.24 L209.19,365.78 L209.5,365.32 L209.81,364.86 L210.12,364.39 L210.43,363.93 L210.74,363.46 L211.05,363 L211.35,362.53 L211.66,362.07 L211.97,361.6 L212.28,361.13 L212.59,360.66 L212.9,360.19 L213.21,359.72 L213.52,359.25 L213.82,358.78 L214.13,358.31 L214.44,357.84 L214.75,357.37 L215.06,356.9 L215.37,356.43 L215.68,355.96 L215.99,355.48 L216.29,355.01 L216.6,354.54 L216.91,354.06 L217.22,353.59 L217.53,353.12 L217.84,352.64 L218.15,352.17 L218.46,351.7 L218.76,351.23 L219.07,350.75 L219.38,350.28 L219.69,349.81 L220,349.34 L220.31,348.86 L220.62,348.39 L220.93,347.92 L221.24,347.45 L221.54,346.98 L221.85,346.51 L222.16,346.04 L222.47,345.57 L222.78,345.1 L223.09,344.63 L223.4,344.16 L223.71,343.69 L224.01,343.23 L224.32,342.76 L224.63,342.29 L224.94,341.83 L225.25,341.37 L225.56,340.9 L225.87,340.44 L226.18,339.98 L226.48,339.52 L226.79,339.06 L227.1,338.6 L227.41,338.14 L227.72,337.68 L228.03,337.23 L228.34,336.77 L228.65,336.32 L228.95,335.86 L229.26,335.41 L229.57,334.96 L229.88,334.51 L230.19,334.06 L230.5,333.62 L230.81,333.17 L231.12,332.73 L231.42,332.28 L231.73,331.84 L232.04,331.4 L232.35,330.96 L232.66,330.53 L232.97,330.09 L233.28,329.66 L233.59,329.22 L233.89,328.79 L234.2,328.36 L234.51,327.94 L234.82,327.51 L235.13,327.09 L235.44,326.66 L235.75,326.24 L236.06,325.82 L236.36,325.41 L236.67,324.99 L236.98,324.58 L237.29,324.17 L237.6,323.76 L237.91,323.35 L238.22,322.95 L238.53,322.54 L238.84,322.14 L239.14,321.74 L239.45,321.35 L239.76,320.95 L240.07,320.56 L240.38,320.17 L240.69,319.78 L241,319.4 L241.31,319.02 L241.61,318.64 L241.92,318.26 L242.23,317.88 L242.54,317.51 L242.85,317.14 L243.16,316.77 L243.47,316.41 L243.78,316.04 L244.08,315.68 L244.39,315.33 L244.7,314.97 L245.01,314.62 L245.32,314.27 L245.63,313.92 L245.94,313.58 L246.25,313.24 L246.55,312.9 L246.86,312.57 L247.17,312.24 L247.48,311.91 L247.79,311.58 L248.1,311.26 L248.41,310.94 L248.72,310.62 L249.02,310.31 L249.33,310 L249.64,309.69 L249.95,309.39 L250.26,309.09 L250.57,308.79 L250.88,308.49 L251.19,308.2 L251.49,307.91 L251.8,307.63 L252.11,307.35 L252.42,307.07 L252.73,306.79 L253.04,306.52 L253.35,306.25 L253.66,305.98 L253.96,305.71 L254.27,305.45 L254.58,305.19 L254.89,304.94 L255.2,304.69 L255.51,304.44 L255.82,304.19 L256.13,303.94 L256.44,303.7 L256.74,303.46 L257.05,303.23 L257.36,303 L257.67,302.77 L257.98,302.54 L258.29,302.31 L258.6,302.09 L258.91,301.87 L259.21,301.66 L259.52,301.45 L259.83,301.23 L260.14,301.03 L260.45,300.82 L260.76,300.62 L261.07,300.42 L261.38,300.22 L261.68,300.03 L261.99,299.84 L262.3,299.65 L262.61,299.46 L262.92,299.28 L263.23,299.1 L263.54,298.92 L263.85,298.74 L264.15,298.57 L264.46,298.4 L264.77,298.23 L265.08,298.07 L265.39,297.9 L265.7,297.74 L266.01,297.59 L266.32,297.43 L266.62,297.28 L266.93,297.13 L267.24,296.98 L267.55,296.83 L267.86,296.69 L268.17,296.55 L268.48,296.41 L268.79,296.28 L269.09,296.14 L269.4,296.01 L269.71,295.89 L270.02,295.76 L270.33,295.64 L270.64,295.51 L270.95,295.4 L271.26,295.28 L271.56,295.16 L271.87,295.05 L272.18,294.94 L272.49,294.84 L272.8,294.73 L273.11,294.63 L273.42,294.53 L273.73,294.43 L274.04,294.33 L274.34,294.24 L274.65,294.15 L274.96,294.06 L275.27,293.97 L275.58,293.89 L275.89,293.8 L276.2,293.72 L276.51,293.64 L276.81,293.57 L277.12,293.49 L277.43,293.42 L277.74,293.35 L278.05,293.28 L278.36,293.22 L278.67,293.15 L278.98,293.09 L279.28,293.03 L279.59,292.97 L279.9,292.92 L280.21,292.87 L280.52,292.82 L280.83,292.77 L281.14,292.72 L281.45,292.68 L281.75,292.64 L282.06,292.6 L282.37,292.56 L282.68,292.53 L282.99,292.5 L283.3,292.47 L283.61,292.44 L283.92,292.42 L284.22,292.4 L284.53,292.38 L284.84,292.36 L285.15,292.35 L285.46,292.34 L285.77,292.34 L286.08,292.33 L286.39,292.33 L286.69,292.34 L287,292.34 L287.31,292.35 L287.62,292.36 L287.93,292.38 L288.24,292.4 L288.55,292.42 L288.86,292.44 L289.16,292.47 L289.47,292.51 L289.78,292.54 L290.09,292.58 L290.4,292.62 L290.71,292.67 L291.02,292.72 L291.33,292.77 L291.64,292.83 L291.94,292.89 L292.25,292.96 L292.56,293.02 L292.87,293.1 L293.18,293.17 L293.49,293.25 L293.8,293.34 L294.11,293.42 L294.41,293.52 L294.72,293.61 L295.03,293.71 L295.34,293.82 L295.65,293.93 L295.96,294.04 L296.27,294.16 L296.58,294.28 L296.88,294.4 L297.19,294.53 L297.5,294.67 L297.81,294.8 L298.12,294.94 L298.43,295.09 L298.74,295.23 L299.05,295.38 L299.35,295.54 L299.66,295.69 L299.97,295.85 L300.28,296.01 L300.59,296.18 L300.9,296.35 L301.21,296.52 L301.52,296.69 L301.82,296.86 L302.13,297.04 L302.44,297.22 L302.75,297.4 L303.06,297.58 L303.37,297.76 L303.68,297.95 L303.99,298.13 L304.29,298.32 L304.6,298.51 L304.91,298.7 L305.22,298.89 L305.53,299.08 L305.84,299.27 L306.15,299.47 L306.46,299.66 L306.76,299.85 L307.07,300.05 L307.38,300.24 L307.69,300.44 L308,300.64 L308.31,300.84 L308.62,301.04 L308.93,301.24 L309.24,301.45 L309.54,301.66 L309.85,301.88 L310.16,302.1 L310.47,302.33 L310.78,302.56 L311.09,302.8 L311.4,303.04 L311.71,303.29 L312.01,303.55 L312.32,303.81 L312.63,304.09 L312.94,304.37 L313.25,304.66 L313.56,304.95 L313.87,305.26 L314.18,305.58 L314.48,305.91 L314.79,306.25 L315.1,306.59 L315.41,306.96 L315.72,307.33 L316.03,307.71 L316.34,308.11 L316.65,308.52 L316.95,308.95 L317.26,309.38 L317.57,309.84 L317.88,310.3 L318.19,310.78 L318.5,311.28 L318.81,311.8 L319.12,312.32 L319.42,312.87 L319.73,313.43 L320.04,314.02 L320.35,314.61 L320.66,315.23 L320.97,315.87 L321.28,316.52 L321.59,317.2 L321.89,317.9 L322.2,318.65 L322.51,319.44 L322.82,320.3 L323.13,321.22 L323.44,322.22 L323.75,323.31 L324.06,324.51 L324.36,325.81 L324.67,327.24 L324.98,328.79 L325.29,330.49 L325.6,332.33" fill="none" stroke="#f0bb3a" stroke-width="1.0" stroke-linejoin="round" stroke-linecap="round" />
<path d="M202.8,379.58 L203.11,378.44 L203.42,377.29 L203.72,376.14 L204.03,374.99 L204.34,373.83 L204.65,372.66 L204.96,371.5 L205.26,370.33 L205.57,369.16 L205.88,367.99 L206.19,366.82 L206.5,365.64 L206.8,364.47 L207.11,363.29 L207.42,362.12 L207.73,360.95 L208.04,359.77 L208.34,358.6 L208.65,357.43 L208.96,356.27 L209.27,355.1 L209.58,353.94 L209.88,352.78 L210.19,351.63 L210.5,350.48 L210.81,349.33 L211.12,348.19 L211.42,347.06 L211.73,345.93 L212.04,344.81 L212.35,343.69 L212.66,342.59 L212.96,341.49 L213.27,340.39 L213.58,339.31 L213.89,338.23 L214.2,337.17 L214.5,336.11 L214.81,335.06 L215.12,334.03 L215.43,333 L215.74,331.99 L216.04,330.98 L216.35,329.99 L216.66,329.01 L216.97,328.05 L217.28,327.09 L217.58,326.15 L217.89,325.23 L218.2,324.32 L218.51,323.42 L218.82,322.54 L219.13,321.68 L219.43,320.83 L219.74,320 L220.05,319.18 L220.36,318.38 L220.67,317.6 L220.97,316.84 L221.28,316.1 L221.59,315.37 L221.9,314.67 L222.21,313.97 L222.51,313.29 L222.82,312.62 L223.13,311.95 L223.44,311.28 L223.75,310.62 L224.05,309.95 L224.36,309.28 L224.67,308.6 L224.98,307.91 L225.29,307.21 L225.59,306.5 L225.9,305.78 L226.21,305.05 L226.52,304.33 L226.83,303.6 L227.13,302.88 L227.44,302.17 L227.75,301.47 L228.06,300.78 L228.37,300.11 L228.67,299.46 L228.98,298.83 L229.29,298.22 L229.6,297.64 L229.91,297.08 L230.21,296.53 L230.52,296.01 L230.83,295.52 L231.14,295.04 L231.45,294.58 L231.75,294.14 L232.06,293.72 L232.37,293.32 L232.68,292.94 L232.99,292.58 L233.29,292.24 L233.6,291.92 L233.91,291.61 L234.22,291.32 L234.53,291.05 L234.83,290.79 L235.14,290.56 L235.45,290.34 L235.76,290.13 L236.07,289.94 L236.37,289.76 L236.68,289.61 L236.99,289.46 L237.3,289.33 L237.61,289.21 L237.91,289.11 L238.22,289.02 L238.53,288.95 L238.84,288.89 L239.15,288.84 L239.45,288.8 L239.76,288.77 L240.07,288.76 L240.38,288.76 L240.69,288.77 L240.99,288.79 L241.3,288.82 L241.61,288.86 L241.92,288.91 L242.23,288.98 L242.53,289.05 L242.84,289.13 L243.15,289.23 L243.46,289.33 L243.77,289.45 L244.07,289.57 L244.38,289.7 L244.69,289.84 L245,289.99 L245.31,290.15 L245.61,290.32 L245.92,290.5 L246.23,290.69 L246.54,290.88 L246.85,291.09 L247.15,291.3 L247.46,291.52 L247.77,291.74 L248.08,291.98 L248.39,292.22 L248.69,292.47 L249,292.72 L249.31,292.99 L249.62,293.26 L249.93,293.53 L250.24,293.82 L250.54,294.11 L250.85,294.4 L251.16,294.71 L251.47,295.02 L251.78,295.33 L252.08,295.65 L252.39,295.98 L252.7,296.31 L253.01,296.64 L253.32,296.98 L253.62,297.33 L253.93,297.68 L254.24,298.04 L254.55,298.4 L254.86,298.76 L255.16,299.13 L255.47,299.5 L255.78,299.88 L256.09,300.26 L256.4,300.64 L256.7,301.03 L257.01,301.42 L257.32,301.81 L257.63,302.21 L257.94,302.6 L258.24,303.01 L258.55,303.41 L258.86,303.82 L259.17,304.23 L259.48,304.64 L259.78,305.05 L260.09,305.47 L260.4,305.89 L260.71,306.31 L261.02,306.73 L261.32,307.16 L261.63,307.59 L261.94,308.02 L262.25,308.45 L262.56,308.88 L262.86,309.32 L263.17,309.75 L263.48,310.19 L263.79,310.63 L264.1,311.07 L264.4,311.51 L264.71,311.96 L265.02,312.4 L265.33,312.85 L265.64,313.29 L265.94,313.74 L266.25,314.19 L266.56,314.64 L266.87,315.09 L267.18,315.54 L267.48,315.99 L267.79,316.44 L268.1,316.89 L268.41,317.35 L268.72,317.8 L269.02,318.25 L269.33,318.7 L269.64,319.16 L269.95,319.61 L270.26,320.06 L270.56,320.52 L270.87,320.97 L271.18,321.42 L271.49,321.87 L271.8,322.32 L272.1,322.77 L272.41,323.22 L272.72,323.67 L273.03,324.12 L273.34,324.57 L273.64,325.02 L273.95,325.46 L274.26,325.91 L274.57,326.35 L274.88,326.8 L275.18,327.24 L275.49,327.68 L275.8,328.12 L276.11,328.55 L276.42,328.99 L276.72,329.42 L277.03,329.86 L277.34,330.29 L277.65,330.72 L277.96,331.14 L278.26,331.57 L278.57,331.99 L278.88,332.41 L279.19,332.83 L279.5,333.25 L279.81,333.67 L280.11,334.08 L280.42,334.49 L280.73,334.9 L281.04,335.31 L281.35,335.71 L281.65,336.11 L281.96,336.51 L282.27,336.91 L282.58,337.3 L282.89,337.69 L283.19,338.08 L283.5,338.46 L283.81,338.84 L284.12,339.22 L284.43,339.6 L284.73,339.97 L285.04,340.34 L285.35,340.71 L285.66,341.07 L285.97,341.44 L286.27,341.79 L286.58,342.15 L286.89,342.5 L287.2,342.84 L287.51,343.19 L287.81,343.53 L288.12,343.86 L288.43,344.19 L288.74,344.52 L289.05,344.85 L289.35,345.17 L289.66,345.48 L289.97,345.8 L290.28,346.1 L290.59,346.41 L290.89,346.71 L291.2,347.01 L291.51,347.3 L291.82,347.58 L292.13,347.87 L292.43,348.14 L292.74,348.42 L293.05,348.69 L293.36,348.95 L293.67,349.21 L293.97,349.47 L294.28,349.72 L294.59,349.96 L294.9,350.2 L295.21,350.44 L295.51,350.67 L295.82,350.89 L296.13,351.11 L296.44,351.33 L296.75,351.54 L297.05,351.74 L297.36,351.94 L297.67,352.13 L297.98,352.32 L298.29,352.5 L298.59,352.68 L298.9,352.84 L299.21,353.01 L299.52,353.16 L299.83,353.31 L300.13,353.45 L300.44,353.58 L300.75,353.71 L301.06,353.83 L301.37,353.94 L301.67,354.04 L301.98,354.14 L302.29,354.22 L302.6,354.3 L302.91,354.36 L303.21,354.42 L303.52,354.47 L303.83,354.51 L304.14,354.54 L304.45,354.56 L304.75,354.57 L305.06,354.57 L305.37,354.56 L305.68,354.53 L305.99,354.5 L306.29,354.46 L306.6,354.4 L306.91,354.33 L307.22,354.26 L307.53,354.16 L307.83,354.06 L308.14,353.95 L308.45,353.82 L308.76,353.68 L309.07,353.52 L309.37,353.36 L309.68,353.17 L309.99,352.98 L310.3,352.77 L310.61,352.55 L310.92,352.32 L311.22,352.07 L311.53,351.8 L311.84,351.52 L312.15,351.23 L312.46,350.92 L312.76,350.59 L313.07,350.25 L313.38,349.89 L313.69,349.52 L314,349.13 L314.3,348.73 L314.61,348.31 L314.92,347.87 L315.23,347.41 L315.54,346.94 L315.84,346.45 L316.15,345.95 L316.46,345.42 L316.77,344.88 L317.08,344.32 L317.38,343.74 L317.69,343.14 L318,342.52 L318.31,341.89 L318.62,341.23 L318.92,340.55 L319.23,339.83 L319.54,339.08 L319.85,338.27 L320.16,337.41 L320.46,336.49 L320.77,335.5 L321.08,334.43 L321.39,333.28 L321.7,332.03 L322,330.66 L322.31,329.17 L322.62,327.53 L322.93,325.74 L323.24,323.78 L323.54,321.68 L323.85,319.52 L324.16,317.39 L324.47,315.35 L324.78,313.49 L325.08,311.9 L325.39,310.65 L325.7,309.82" fill="none" stroke="#9d4cb8" stroke-width="1.0" stroke-linejoin="round" stroke-linecap="round" />
<line x1="322.1" y1="350.5" x2="331.7" y2="350.5" stroke="#4189cb" stroke-width="0.9"/>
<text x="333.1" y="352.4" font-size="6.2" fill="#444" style="stroke:none">H<tspan font-size="4.4" dx="0.5" dy="2.6">1</tspan></text>
<path d="M333.6,346.56 C334.45,344.93 335.3,347.27 336.15,345.65 L337,345.32" fill="none" stroke="#4a4a4a" stroke-width="0.62"/>
<line x1="322.1" y1="360.5" x2="331.7" y2="360.5" stroke="#e07c50" stroke-width="0.9"/>
<text x="333.1" y="362.4" font-size="6.2" fill="#444" style="stroke:none">H<tspan font-size="4.4" dx="0.5" dy="2.6">2</tspan></text>
<path d="M333.6,356.56 C334.45,354.93 335.3,357.27 336.15,355.65 L337,355.32" fill="none" stroke="#4a4a4a" stroke-width="0.62"/>
<line x1="322.1" y1="370.5" x2="331.7" y2="370.5" stroke="#f0bb3a" stroke-width="0.9"/>
<text x="333.1" y="372.4" font-size="6.2" fill="#444" style="stroke:none">H<tspan font-size="4.4" dx="0.5" dy="2.6">3</tspan></text>
<path d="M333.6,366.56 C334.45,364.93 335.3,367.27 336.15,365.65 L337,365.32" fill="none" stroke="#4a4a4a" stroke-width="0.62"/>
<line x1="322.1" y1="380.5" x2="331.7" y2="380.5" stroke="#9d4cb8" stroke-width="0.9"/>
<text x="333.1" y="382.4" font-size="6.2" fill="#444" style="stroke:none">H<tspan font-size="4.4" dx="0.5" dy="2.6">4</tspan></text>
<path d="M333.6,376.56 C334.45,374.93 335.3,377.27 336.15,375.65 L337,375.32" fill="none" stroke="#4a4a4a" stroke-width="0.62"/>
</svg>
</body></html>
